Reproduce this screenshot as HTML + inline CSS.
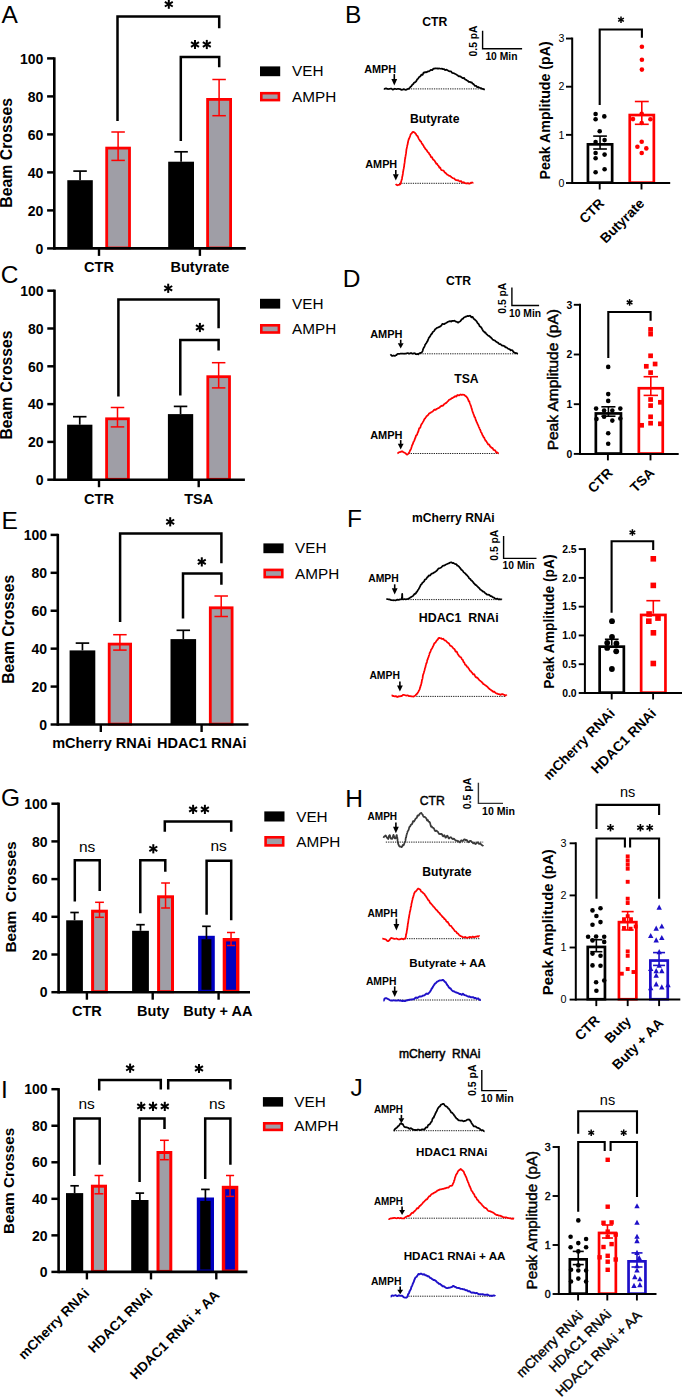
<!DOCTYPE html>
<html><head><meta charset="utf-8"><style>
html,body{margin:0;padding:0;background:#fff;}
svg{display:block;font-family:"Liberation Sans",sans-serif;}
</style></head><body>
<svg width="682" height="1399" viewBox="0 0 682 1399">
<rect width="682" height="1399" fill="#fff"/>
<rect x="67.3" y="180.2" width="25.5" height="68.2" fill="#000"/>
<line x1="80.05" y1="180.2" x2="80.05" y2="171.1" stroke="#000" stroke-width="1.7"/>
<line x1="73.3" y1="171.1" x2="86.8" y2="171.1" stroke="#000" stroke-width="1.7"/>
<rect x="106.7" y="148.1" width="22.8" height="99.9" fill="#9f9ea6" stroke="#ff0000" stroke-width="2.8"/>
<line x1="118.1" y1="160.4" x2="118.1" y2="132" stroke="#ff0000" stroke-width="1.5"/>
<line x1="111.35" y1="132" x2="124.85" y2="132" stroke="#ff0000" stroke-width="1.5"/>
<line x1="111.35" y1="160.4" x2="124.85" y2="160.4" stroke="#ff0000" stroke-width="1.5"/>
<rect x="168.2" y="161.7" width="25.8" height="86.7" fill="#000"/>
<line x1="181.1" y1="161.7" x2="181.1" y2="151.8" stroke="#000" stroke-width="1.7"/>
<line x1="174.35" y1="151.8" x2="187.85" y2="151.8" stroke="#000" stroke-width="1.7"/>
<rect x="207.6" y="99.4" width="23" height="148.6" fill="#9f9ea6" stroke="#ff0000" stroke-width="2.8"/>
<line x1="219.1" y1="115.7" x2="219.1" y2="79.5" stroke="#ff0000" stroke-width="1.5"/>
<line x1="212.35" y1="79.5" x2="225.85" y2="79.5" stroke="#ff0000" stroke-width="1.5"/>
<line x1="212.35" y1="115.7" x2="225.85" y2="115.7" stroke="#ff0000" stroke-width="1.5"/>
<line x1="54.3" y1="57.3" x2="54.3" y2="249.7" stroke="#000" stroke-width="2.6"/>
<line x1="47.1" y1="248.4" x2="54.3" y2="248.4" stroke="#000" stroke-width="2.47"/>
<text x="43.4" y="253.6" font-size="14" font-weight="bold" text-anchor="end" fill="#000">0</text>
<line x1="47.1" y1="210.4" x2="54.3" y2="210.4" stroke="#000" stroke-width="2.47"/>
<text x="43.4" y="215.6" font-size="14" font-weight="bold" text-anchor="end" fill="#000">20</text>
<line x1="47.1" y1="172.4" x2="54.3" y2="172.4" stroke="#000" stroke-width="2.47"/>
<text x="43.4" y="177.6" font-size="14" font-weight="bold" text-anchor="end" fill="#000">40</text>
<line x1="47.1" y1="134.4" x2="54.3" y2="134.4" stroke="#000" stroke-width="2.47"/>
<text x="43.4" y="139.6" font-size="14" font-weight="bold" text-anchor="end" fill="#000">60</text>
<line x1="47.1" y1="96.4" x2="54.3" y2="96.4" stroke="#000" stroke-width="2.47"/>
<text x="43.4" y="101.6" font-size="14" font-weight="bold" text-anchor="end" fill="#000">80</text>
<line x1="47.1" y1="58.4" x2="54.3" y2="58.4" stroke="#000" stroke-width="2.47"/>
<text x="43.4" y="63.6" font-size="14" font-weight="bold" text-anchor="end" fill="#000">100</text>
<line x1="54.3" y1="248.4" x2="245.8" y2="248.4" stroke="#000" stroke-width="2.6"/>
<line x1="99" y1="248.4" x2="99" y2="255.9" stroke="#000" stroke-width="2.4"/>
<line x1="199.9" y1="248.4" x2="199.9" y2="255.9" stroke="#000" stroke-width="2.4"/>
<text x="99" y="271.8" font-size="14.5" font-weight="bold" text-anchor="middle" fill="#000">CTR</text>
<text x="199.9" y="271.8" font-size="14.5" font-weight="bold" text-anchor="middle" fill="#000">Butyrate</text>
<text x="12.3" y="152.8" font-size="15.8" font-weight="bold" text-anchor="middle" fill="#000" transform="rotate(-90 12.3 152.8)" xml:space="preserve">Beam Crosses</text>
<path d="M117.5 121V16.4H219.2V28.2" fill="none" stroke="#000" stroke-width="2.5" stroke-linejoin="miter"/>
<path d="M180.8 141V56.9H219.2V67.2" fill="none" stroke="#000" stroke-width="2.5" stroke-linejoin="miter"/>
<line x1="168.8" y1="-0.4" x2="168.8" y2="8.8" stroke="#000" stroke-width="2"/>
<line x1="164.82" y1="1.9" x2="172.78" y2="6.5" stroke="#000" stroke-width="2"/>
<line x1="164.82" y1="6.5" x2="172.78" y2="1.9" stroke="#000" stroke-width="2"/>
<line x1="195" y1="39.9" x2="195" y2="49.1" stroke="#000" stroke-width="2"/>
<line x1="191.02" y1="42.2" x2="198.98" y2="46.8" stroke="#000" stroke-width="2"/>
<line x1="191.02" y1="46.8" x2="198.98" y2="42.2" stroke="#000" stroke-width="2"/>
<line x1="206.8" y1="39.9" x2="206.8" y2="49.1" stroke="#000" stroke-width="2"/>
<line x1="202.82" y1="42.2" x2="210.78" y2="46.8" stroke="#000" stroke-width="2"/>
<line x1="202.82" y1="46.8" x2="210.78" y2="42.2" stroke="#000" stroke-width="2"/>
<rect x="260" y="66.4" width="20.2" height="9.8" fill="#000"/>
<text x="292" y="76.4" font-size="15.3" text-anchor="start" fill="#000">VEH</text>
<rect x="261.3" y="93.2" width="17.6" height="6.9" fill="#9f9ea6" stroke="#ff0000" stroke-width="2.6"/>
<text x="292" y="101.6" font-size="15.3" text-anchor="start" fill="#000">AMPH</text>
<text x="1.6" y="23" font-size="24.5" text-anchor="start" fill="#000">A</text>
<rect x="67.1" y="424.7" width="25.3" height="55" fill="#000"/>
<line x1="79.75" y1="424.7" x2="79.75" y2="416.7" stroke="#000" stroke-width="1.7"/>
<line x1="73" y1="416.7" x2="86.5" y2="416.7" stroke="#000" stroke-width="1.7"/>
<rect x="106.6" y="418.8" width="21.8" height="60.5" fill="#9f9ea6" stroke="#ff0000" stroke-width="2.8"/>
<line x1="117.5" y1="426.9" x2="117.5" y2="407.5" stroke="#ff0000" stroke-width="1.5"/>
<line x1="110.75" y1="407.5" x2="124.25" y2="407.5" stroke="#ff0000" stroke-width="1.5"/>
<line x1="110.75" y1="426.9" x2="124.25" y2="426.9" stroke="#ff0000" stroke-width="1.5"/>
<rect x="167.9" y="414.1" width="25.3" height="65.6" fill="#000"/>
<line x1="180.55" y1="414.1" x2="180.55" y2="406.4" stroke="#000" stroke-width="1.7"/>
<line x1="173.8" y1="406.4" x2="187.3" y2="406.4" stroke="#000" stroke-width="1.7"/>
<rect x="207.8" y="376.7" width="21.7" height="102.6" fill="#9f9ea6" stroke="#ff0000" stroke-width="2.8"/>
<line x1="218.65" y1="387.9" x2="218.65" y2="362.7" stroke="#ff0000" stroke-width="1.5"/>
<line x1="211.9" y1="362.7" x2="225.4" y2="362.7" stroke="#ff0000" stroke-width="1.5"/>
<line x1="211.9" y1="387.9" x2="225.4" y2="387.9" stroke="#ff0000" stroke-width="1.5"/>
<line x1="54.5" y1="289.6" x2="54.5" y2="481" stroke="#000" stroke-width="2.6"/>
<line x1="47.3" y1="479.7" x2="54.5" y2="479.7" stroke="#000" stroke-width="2.47"/>
<text x="43.6" y="484.9" font-size="14" font-weight="bold" text-anchor="end" fill="#000">0</text>
<line x1="47.3" y1="441.9" x2="54.5" y2="441.9" stroke="#000" stroke-width="2.47"/>
<text x="43.6" y="447.1" font-size="14" font-weight="bold" text-anchor="end" fill="#000">20</text>
<line x1="47.3" y1="404.1" x2="54.5" y2="404.1" stroke="#000" stroke-width="2.47"/>
<text x="43.6" y="409.3" font-size="14" font-weight="bold" text-anchor="end" fill="#000">40</text>
<line x1="47.3" y1="366.3" x2="54.5" y2="366.3" stroke="#000" stroke-width="2.47"/>
<text x="43.6" y="371.5" font-size="14" font-weight="bold" text-anchor="end" fill="#000">60</text>
<line x1="47.3" y1="328.5" x2="54.5" y2="328.5" stroke="#000" stroke-width="2.47"/>
<text x="43.6" y="333.7" font-size="14" font-weight="bold" text-anchor="end" fill="#000">80</text>
<line x1="47.3" y1="290.7" x2="54.5" y2="290.7" stroke="#000" stroke-width="2.47"/>
<text x="43.6" y="295.9" font-size="14" font-weight="bold" text-anchor="end" fill="#000">100</text>
<line x1="54.5" y1="479.7" x2="244.9" y2="479.7" stroke="#000" stroke-width="2.6"/>
<line x1="99" y1="479.7" x2="99" y2="487.2" stroke="#000" stroke-width="2.4"/>
<line x1="198.7" y1="479.7" x2="198.7" y2="487.2" stroke="#000" stroke-width="2.4"/>
<text x="99" y="503.9" font-size="14.5" font-weight="bold" text-anchor="middle" fill="#000">CTR</text>
<text x="198.7" y="503.9" font-size="14.5" font-weight="bold" text-anchor="middle" fill="#000">TSA</text>
<text x="11.9" y="385" font-size="15.7" font-weight="bold" text-anchor="middle" fill="#000" transform="rotate(-90 11.9 385)" xml:space="preserve">Beam Crosses</text>
<path d="M118.4 396.5V299.6H218.6V328.2" fill="none" stroke="#000" stroke-width="2.5" stroke-linejoin="miter"/>
<path d="M180.3 395.4V340H218.6V350.6" fill="none" stroke="#000" stroke-width="2.5" stroke-linejoin="miter"/>
<line x1="168.2" y1="283.7" x2="168.2" y2="292.9" stroke="#000" stroke-width="2"/>
<line x1="164.22" y1="286" x2="172.18" y2="290.6" stroke="#000" stroke-width="2"/>
<line x1="164.22" y1="290.6" x2="172.18" y2="286" stroke="#000" stroke-width="2"/>
<line x1="199.9" y1="322.9" x2="199.9" y2="332.1" stroke="#000" stroke-width="2"/>
<line x1="195.92" y1="325.2" x2="203.88" y2="329.8" stroke="#000" stroke-width="2"/>
<line x1="195.92" y1="329.8" x2="203.88" y2="325.2" stroke="#000" stroke-width="2"/>
<rect x="260" y="298.8" width="20.2" height="9.8" fill="#000"/>
<text x="292" y="308.8" font-size="15.3" text-anchor="start" fill="#000">VEH</text>
<rect x="261.3" y="325.3" width="17.6" height="7.2" fill="#9f9ea6" stroke="#ff0000" stroke-width="2.6"/>
<text x="292" y="334" font-size="15.3" text-anchor="start" fill="#000">AMPH</text>
<text x="0.8" y="282.7" font-size="24.5" text-anchor="start" fill="#000">C</text>
<rect x="69.6" y="650.4" width="25.7" height="74.1" fill="#000"/>
<line x1="82.45" y1="650.4" x2="82.45" y2="643.1" stroke="#000" stroke-width="1.7"/>
<line x1="75.7" y1="643.1" x2="89.2" y2="643.1" stroke="#000" stroke-width="1.7"/>
<rect x="109.2" y="644.1" width="21.4" height="80" fill="#9f9ea6" stroke="#ff0000" stroke-width="2.8"/>
<line x1="119.9" y1="650.1" x2="119.9" y2="634.7" stroke="#ff0000" stroke-width="1.5"/>
<line x1="113.15" y1="634.7" x2="126.65" y2="634.7" stroke="#ff0000" stroke-width="1.5"/>
<line x1="113.15" y1="650.1" x2="126.65" y2="650.1" stroke="#ff0000" stroke-width="1.5"/>
<rect x="170.5" y="639.1" width="25.6" height="85.4" fill="#000"/>
<line x1="183.3" y1="639.1" x2="183.3" y2="630.3" stroke="#000" stroke-width="1.7"/>
<line x1="176.55" y1="630.3" x2="190.05" y2="630.3" stroke="#000" stroke-width="1.7"/>
<rect x="210.3" y="607.8" width="21.8" height="116.3" fill="#9f9ea6" stroke="#ff0000" stroke-width="2.8"/>
<line x1="221.2" y1="616.5" x2="221.2" y2="596" stroke="#ff0000" stroke-width="1.5"/>
<line x1="214.45" y1="596" x2="227.95" y2="596" stroke="#ff0000" stroke-width="1.5"/>
<line x1="214.45" y1="616.5" x2="227.95" y2="616.5" stroke="#ff0000" stroke-width="1.5"/>
<line x1="57.8" y1="533.8" x2="57.8" y2="725.8" stroke="#000" stroke-width="2.6"/>
<line x1="50.6" y1="724.5" x2="57.8" y2="724.5" stroke="#000" stroke-width="2.47"/>
<text x="47" y="729.7" font-size="14" font-weight="bold" text-anchor="end" fill="#000">0</text>
<line x1="50.6" y1="686.58" x2="57.8" y2="686.58" stroke="#000" stroke-width="2.47"/>
<text x="47" y="691.78" font-size="14" font-weight="bold" text-anchor="end" fill="#000">20</text>
<line x1="50.6" y1="648.66" x2="57.8" y2="648.66" stroke="#000" stroke-width="2.47"/>
<text x="47" y="653.86" font-size="14" font-weight="bold" text-anchor="end" fill="#000">40</text>
<line x1="50.6" y1="610.74" x2="57.8" y2="610.74" stroke="#000" stroke-width="2.47"/>
<text x="47" y="615.94" font-size="14" font-weight="bold" text-anchor="end" fill="#000">60</text>
<line x1="50.6" y1="572.82" x2="57.8" y2="572.82" stroke="#000" stroke-width="2.47"/>
<text x="47" y="578.02" font-size="14" font-weight="bold" text-anchor="end" fill="#000">80</text>
<line x1="50.6" y1="534.9" x2="57.8" y2="534.9" stroke="#000" stroke-width="2.47"/>
<text x="47" y="540.1" font-size="14" font-weight="bold" text-anchor="end" fill="#000">100</text>
<line x1="57.8" y1="724.5" x2="248.5" y2="724.5" stroke="#000" stroke-width="2.6"/>
<line x1="100.8" y1="724.5" x2="100.8" y2="732" stroke="#000" stroke-width="2.4"/>
<line x1="201.6" y1="724.5" x2="201.6" y2="732" stroke="#000" stroke-width="2.4"/>
<text x="101.7" y="748.3" font-size="14.5" font-weight="bold" text-anchor="middle" fill="#000">mCherry RNAi</text>
<text x="201.8" y="748.3" font-size="14.5" font-weight="bold" text-anchor="middle" fill="#000">HDAC1 RNAi</text>
<text x="14.5" y="629.3" font-size="15.7" font-weight="bold" text-anchor="middle" fill="#000" transform="rotate(-90 14.5 629.3)" xml:space="preserve">Beam Crosses</text>
<path d="M120.1 622.1V533.6H221.4V563.3" fill="none" stroke="#000" stroke-width="2.5" stroke-linejoin="miter"/>
<path d="M183 618.4V573.6H221.4V584.8" fill="none" stroke="#000" stroke-width="2.5" stroke-linejoin="miter"/>
<line x1="170.2" y1="517.2" x2="170.2" y2="526.4" stroke="#000" stroke-width="2"/>
<line x1="166.22" y1="519.5" x2="174.18" y2="524.1" stroke="#000" stroke-width="2"/>
<line x1="166.22" y1="524.1" x2="174.18" y2="519.5" stroke="#000" stroke-width="2"/>
<line x1="201.8" y1="557.3" x2="201.8" y2="566.5" stroke="#000" stroke-width="2"/>
<line x1="197.82" y1="559.6" x2="205.78" y2="564.2" stroke="#000" stroke-width="2"/>
<line x1="197.82" y1="564.2" x2="205.78" y2="559.6" stroke="#000" stroke-width="2"/>
<rect x="263.4" y="543.4" width="20.2" height="9.8" fill="#000"/>
<text x="295.1" y="553.4" font-size="15.3" text-anchor="start" fill="#000">VEH</text>
<rect x="264.7" y="569.9" width="17.6" height="7.2" fill="#9f9ea6" stroke="#ff0000" stroke-width="2.6"/>
<text x="295.1" y="578.6" font-size="15.3" text-anchor="start" fill="#000">AMPH</text>
<text x="1.6" y="528.6" font-size="24.5" text-anchor="start" fill="#000">E</text>
<rect x="66.2" y="920.3" width="16.7" height="71.9" fill="#000"/>
<line x1="74.55" y1="920.3" x2="74.55" y2="912.5" stroke="#000" stroke-width="1.7"/>
<line x1="70.3" y1="912.5" x2="78.8" y2="912.5" stroke="#000" stroke-width="1.7"/>
<rect x="92.6" y="911.2" width="13.8" height="80.5" fill="#9f9ea6" stroke="#ff0000" stroke-width="3"/>
<line x1="99.5" y1="917.3" x2="99.5" y2="902.3" stroke="#ff0000" stroke-width="1.5"/>
<line x1="95.1" y1="902.3" x2="103.9" y2="902.3" stroke="#ff0000" stroke-width="1.5"/>
<line x1="95.1" y1="917.3" x2="103.9" y2="917.3" stroke="#ff0000" stroke-width="1.5"/>
<rect x="132.1" y="930.8" width="16.8" height="61.4" fill="#000"/>
<line x1="140.5" y1="930.8" x2="140.5" y2="924.7" stroke="#000" stroke-width="1.7"/>
<line x1="136.25" y1="924.7" x2="144.75" y2="924.7" stroke="#000" stroke-width="1.7"/>
<rect x="158.6" y="896.8" width="13.9" height="94.9" fill="#9f9ea6" stroke="#ff0000" stroke-width="3"/>
<line x1="165.55" y1="908" x2="165.55" y2="883" stroke="#ff0000" stroke-width="1.5"/>
<line x1="161.15" y1="883" x2="169.95" y2="883" stroke="#ff0000" stroke-width="1.5"/>
<line x1="161.15" y1="908" x2="169.95" y2="908" stroke="#ff0000" stroke-width="1.5"/>
<rect x="199.8" y="937.5" width="13.3" height="54" fill="#000" stroke="#0000c0" stroke-width="3.4"/>
<line x1="206.45" y1="939.2" x2="206.45" y2="926.3" stroke="#000" stroke-width="1.7"/>
<line x1="202.15" y1="926.3" x2="210.75" y2="926.3" stroke="#000" stroke-width="1.7"/>
<rect x="224.4" y="939.7" width="13.3" height="51.8" fill="#0000c0" stroke="#ff0000" stroke-width="3.4"/>
<line x1="231.05" y1="945.5" x2="231.05" y2="932.5" stroke="#ff0000" stroke-width="1.5"/>
<line x1="227" y1="932.5" x2="235.1" y2="932.5" stroke="#ff0000" stroke-width="1.5"/>
<line x1="227" y1="945.5" x2="235.1" y2="945.5" stroke="#ff0000" stroke-width="1.5"/>
<line x1="58.6" y1="802.6" x2="58.6" y2="993.5" stroke="#000" stroke-width="2.6"/>
<line x1="51.4" y1="992.2" x2="58.6" y2="992.2" stroke="#000" stroke-width="2.47"/>
<text x="47.6" y="997.4" font-size="14" font-weight="bold" text-anchor="end" fill="#000">0</text>
<line x1="51.4" y1="954.5" x2="58.6" y2="954.5" stroke="#000" stroke-width="2.47"/>
<text x="47.6" y="959.7" font-size="14" font-weight="bold" text-anchor="end" fill="#000">20</text>
<line x1="51.4" y1="916.8" x2="58.6" y2="916.8" stroke="#000" stroke-width="2.47"/>
<text x="47.6" y="922" font-size="14" font-weight="bold" text-anchor="end" fill="#000">40</text>
<line x1="51.4" y1="879.1" x2="58.6" y2="879.1" stroke="#000" stroke-width="2.47"/>
<text x="47.6" y="884.3" font-size="14" font-weight="bold" text-anchor="end" fill="#000">60</text>
<line x1="51.4" y1="841.4" x2="58.6" y2="841.4" stroke="#000" stroke-width="2.47"/>
<text x="47.6" y="846.6" font-size="14" font-weight="bold" text-anchor="end" fill="#000">80</text>
<line x1="51.4" y1="803.7" x2="58.6" y2="803.7" stroke="#000" stroke-width="2.47"/>
<text x="47.6" y="808.9" font-size="14" font-weight="bold" text-anchor="end" fill="#000">100</text>
<line x1="58.6" y1="992.2" x2="250" y2="992.2" stroke="#000" stroke-width="2.6"/>
<line x1="86.9" y1="992.2" x2="86.9" y2="999.7" stroke="#000" stroke-width="2.4"/>
<line x1="152.7" y1="992.2" x2="152.7" y2="999.7" stroke="#000" stroke-width="2.4"/>
<line x1="218.6" y1="992.2" x2="218.6" y2="999.7" stroke="#000" stroke-width="2.4"/>
<text x="86.9" y="1015.5" font-size="14.5" font-weight="bold" text-anchor="middle" fill="#000">CTR</text>
<text x="153.2" y="1015.5" font-size="14.5" font-weight="bold" text-anchor="middle" fill="#000">Buty</text>
<text x="217.8" y="1015.5" font-size="14.5" font-weight="bold" text-anchor="middle" fill="#000">Buty + AA</text>
<text x="16" y="897" font-size="15.4" font-weight="bold" text-anchor="middle" fill="#000" transform="rotate(-90 16 897)" xml:space="preserve">Beam  Crosses</text>
<path d="M74.8 901.6V860.3H99.7V890.9" fill="none" stroke="#000" stroke-width="2.5" stroke-linejoin="miter"/>
<path d="M140.3 913.3V860.3H165.3V871.7" fill="none" stroke="#000" stroke-width="2.5" stroke-linejoin="miter"/>
<path d="M164.8 831.8V821.5H231.2V831.8" fill="none" stroke="#000" stroke-width="2.5" stroke-linejoin="miter"/>
<path d="M206.6 914.7V860.7H231.2V920.2" fill="none" stroke="#000" stroke-width="2.5" stroke-linejoin="miter"/>
<text x="87.2" y="851.8" font-size="15.5" text-anchor="middle" fill="#000">ns</text>
<line x1="153.3" y1="844.2" x2="153.3" y2="853.4" stroke="#000" stroke-width="2"/>
<line x1="149.32" y1="846.5" x2="157.28" y2="851.1" stroke="#000" stroke-width="2"/>
<line x1="149.32" y1="851.1" x2="157.28" y2="846.5" stroke="#000" stroke-width="2"/>
<line x1="193.1" y1="804.8" x2="193.1" y2="814" stroke="#000" stroke-width="2"/>
<line x1="189.12" y1="807.1" x2="197.08" y2="811.7" stroke="#000" stroke-width="2"/>
<line x1="189.12" y1="811.7" x2="197.08" y2="807.1" stroke="#000" stroke-width="2"/>
<line x1="204.9" y1="804.8" x2="204.9" y2="814" stroke="#000" stroke-width="2"/>
<line x1="200.92" y1="807.1" x2="208.88" y2="811.7" stroke="#000" stroke-width="2"/>
<line x1="200.92" y1="811.7" x2="208.88" y2="807.1" stroke="#000" stroke-width="2"/>
<text x="218.6" y="851.4" font-size="15.5" text-anchor="middle" fill="#000">ns</text>
<rect x="264.3" y="811.4" width="20.2" height="10.1" fill="#000"/>
<text x="296.2" y="821.7" font-size="15.3" text-anchor="start" fill="#000">VEH</text>
<rect x="265.6" y="837.3" width="17.6" height="8.1" fill="#9f9ea6" stroke="#ff0000" stroke-width="2.6"/>
<text x="296.2" y="846.9" font-size="15.3" text-anchor="start" fill="#000">AMPH</text>
<text x="1" y="806.2" font-size="24.5" text-anchor="start" fill="#000">G</text>
<rect x="66" y="1193.1" width="17.2" height="78.8" fill="#000"/>
<line x1="74.6" y1="1193.1" x2="74.6" y2="1185.8" stroke="#000" stroke-width="1.7"/>
<line x1="70.35" y1="1185.8" x2="78.85" y2="1185.8" stroke="#000" stroke-width="1.7"/>
<rect x="92.4" y="1186.2" width="13.1" height="85.2" fill="#9f9ea6" stroke="#ff0000" stroke-width="3"/>
<line x1="98.95" y1="1193.8" x2="98.95" y2="1175.5" stroke="#ff0000" stroke-width="1.5"/>
<line x1="94.55" y1="1175.5" x2="103.35" y2="1175.5" stroke="#ff0000" stroke-width="1.5"/>
<line x1="94.55" y1="1193.8" x2="103.35" y2="1193.8" stroke="#ff0000" stroke-width="1.5"/>
<rect x="131.2" y="1200" width="17.3" height="71.9" fill="#000"/>
<line x1="139.85" y1="1200" x2="139.85" y2="1193.1" stroke="#000" stroke-width="1.7"/>
<line x1="135.6" y1="1193.1" x2="144.1" y2="1193.1" stroke="#000" stroke-width="1.7"/>
<rect x="158" y="1152.5" width="12.8" height="118.9" fill="#9f9ea6" stroke="#ff0000" stroke-width="3"/>
<line x1="164.4" y1="1159.7" x2="164.4" y2="1140.3" stroke="#ff0000" stroke-width="1.5"/>
<line x1="160" y1="1140.3" x2="168.8" y2="1140.3" stroke="#ff0000" stroke-width="1.5"/>
<line x1="160" y1="1159.7" x2="168.8" y2="1159.7" stroke="#ff0000" stroke-width="1.5"/>
<rect x="198.5" y="1199.2" width="13.8" height="72" fill="#000" stroke="#0000c0" stroke-width="3.4"/>
<line x1="205.4" y1="1200.9" x2="205.4" y2="1189.4" stroke="#000" stroke-width="1.7"/>
<line x1="201.1" y1="1189.4" x2="209.7" y2="1189.4" stroke="#000" stroke-width="1.7"/>
<rect x="223.5" y="1187.5" width="13.1" height="83.7" fill="#0000c0" stroke="#ff0000" stroke-width="3.4"/>
<line x1="230.05" y1="1196.4" x2="230.05" y2="1175.5" stroke="#ff0000" stroke-width="1.5"/>
<line x1="226" y1="1175.5" x2="234.1" y2="1175.5" stroke="#ff0000" stroke-width="1.5"/>
<line x1="226" y1="1196.4" x2="234.1" y2="1196.4" stroke="#ff0000" stroke-width="1.5"/>
<line x1="58.6" y1="1088.1" x2="58.6" y2="1273.2" stroke="#000" stroke-width="2.6"/>
<line x1="51.4" y1="1271.9" x2="58.6" y2="1271.9" stroke="#000" stroke-width="2.47"/>
<text x="47.6" y="1277.1" font-size="14" font-weight="bold" text-anchor="end" fill="#000">0</text>
<line x1="51.4" y1="1235.36" x2="58.6" y2="1235.36" stroke="#000" stroke-width="2.47"/>
<text x="47.6" y="1240.56" font-size="14" font-weight="bold" text-anchor="end" fill="#000">20</text>
<line x1="51.4" y1="1198.82" x2="58.6" y2="1198.82" stroke="#000" stroke-width="2.47"/>
<text x="47.6" y="1204.02" font-size="14" font-weight="bold" text-anchor="end" fill="#000">40</text>
<line x1="51.4" y1="1162.28" x2="58.6" y2="1162.28" stroke="#000" stroke-width="2.47"/>
<text x="47.6" y="1167.48" font-size="14" font-weight="bold" text-anchor="end" fill="#000">60</text>
<line x1="51.4" y1="1125.74" x2="58.6" y2="1125.74" stroke="#000" stroke-width="2.47"/>
<text x="47.6" y="1130.94" font-size="14" font-weight="bold" text-anchor="end" fill="#000">80</text>
<line x1="51.4" y1="1089.2" x2="58.6" y2="1089.2" stroke="#000" stroke-width="2.47"/>
<text x="47.6" y="1094.4" font-size="14" font-weight="bold" text-anchor="end" fill="#000">100</text>
<line x1="58.6" y1="1271.9" x2="247.4" y2="1271.9" stroke="#000" stroke-width="2.6"/>
<line x1="86.9" y1="1271.9" x2="86.9" y2="1279.4" stroke="#000" stroke-width="2.4"/>
<line x1="151" y1="1271.9" x2="151" y2="1279.4" stroke="#000" stroke-width="2.4"/>
<line x1="216.3" y1="1271.9" x2="216.3" y2="1279.4" stroke="#000" stroke-width="2.4"/>
<text x="90.1" y="1294.1" font-size="13.7" font-weight="bold" text-anchor="end" fill="#000" transform="rotate(-45 90.1 1294.1)">mCherry RNAi</text>
<text x="153.5" y="1294.1" font-size="13.7" font-weight="bold" text-anchor="end" fill="#000" transform="rotate(-45 153.5 1294.1)">HDAC1 RNAi</text>
<text x="220.2" y="1295.9" font-size="13.7" font-weight="bold" text-anchor="end" fill="#000" transform="rotate(-45 220.2 1295.9)">HDAC1 RNAi + AA</text>
<text x="14.1" y="1180.8" font-size="15.3" font-weight="bold" text-anchor="middle" fill="#000" transform="rotate(-90 14.1 1180.8)" xml:space="preserve">Beam Crosses</text>
<path d="M74.3 1175.9V1118.6H99.7V1164.7" fill="none" stroke="#000" stroke-width="2.5" stroke-linejoin="miter"/>
<path d="M139.6 1182.1V1118.6H164.5V1129" fill="none" stroke="#000" stroke-width="2.5" stroke-linejoin="miter"/>
<path d="M99.2 1090.4V1079.9H160.8V1089.6" fill="none" stroke="#000" stroke-width="2.5" stroke-linejoin="miter"/>
<path d="M168.2 1089.6V1080.3H230.4V1089.6" fill="none" stroke="#000" stroke-width="2.5" stroke-linejoin="miter"/>
<path d="M205.2 1178.9V1118.6H230.4V1164.8" fill="none" stroke="#000" stroke-width="2.5" stroke-linejoin="miter"/>
<text x="86.7" y="1109.4" font-size="15.5" text-anchor="middle" fill="#000">ns</text>
<line x1="141.2" y1="1101.8" x2="141.2" y2="1111" stroke="#000" stroke-width="2"/>
<line x1="137.22" y1="1104.1" x2="145.18" y2="1108.7" stroke="#000" stroke-width="2"/>
<line x1="137.22" y1="1108.7" x2="145.18" y2="1104.1" stroke="#000" stroke-width="2"/>
<line x1="153" y1="1101.8" x2="153" y2="1111" stroke="#000" stroke-width="2"/>
<line x1="149.02" y1="1104.1" x2="156.98" y2="1108.7" stroke="#000" stroke-width="2"/>
<line x1="149.02" y1="1108.7" x2="156.98" y2="1104.1" stroke="#000" stroke-width="2"/>
<line x1="164.8" y1="1101.8" x2="164.8" y2="1111" stroke="#000" stroke-width="2"/>
<line x1="160.82" y1="1104.1" x2="168.78" y2="1108.7" stroke="#000" stroke-width="2"/>
<line x1="160.82" y1="1108.7" x2="168.78" y2="1104.1" stroke="#000" stroke-width="2"/>
<line x1="130.1" y1="1063.6" x2="130.1" y2="1072.8" stroke="#000" stroke-width="2"/>
<line x1="126.12" y1="1065.9" x2="134.08" y2="1070.5" stroke="#000" stroke-width="2"/>
<line x1="126.12" y1="1070.5" x2="134.08" y2="1065.9" stroke="#000" stroke-width="2"/>
<line x1="199" y1="1063.9" x2="199" y2="1073.1" stroke="#000" stroke-width="2"/>
<line x1="195.02" y1="1066.2" x2="202.98" y2="1070.8" stroke="#000" stroke-width="2"/>
<line x1="195.02" y1="1070.8" x2="202.98" y2="1066.2" stroke="#000" stroke-width="2"/>
<text x="217.2" y="1109.4" font-size="15.5" text-anchor="middle" fill="#000">ns</text>
<rect x="262.9" y="1097.1" width="20.2" height="9.5" fill="#000"/>
<text x="294.3" y="1106.8" font-size="15.3" text-anchor="start" fill="#000">VEH</text>
<rect x="264.2" y="1123.3" width="17.6" height="6.6" fill="#9f9ea6" stroke="#ff0000" stroke-width="2.6"/>
<text x="294.3" y="1131.4" font-size="15.3" text-anchor="start" fill="#000">AMPH</text>
<text x="1" y="1098.3" font-size="24.5" text-anchor="start" fill="#000">I</text>
<text x="345.1" y="22.7" font-size="24.5" text-anchor="start" fill="#000">B</text>
<text x="434.7" y="26.4" font-size="12.2" font-weight="bold" text-anchor="middle" fill="#000">CTR</text>
<text x="434.7" y="122.7" font-size="12.2" font-weight="bold" text-anchor="middle" fill="#000">Butyrate</text>
<path d="M482.6 30.8V48.7H522.1" fill="none" stroke="#000" stroke-width="1.4"/>
<text x="476.6" y="41" font-size="10.3" font-weight="bold" text-anchor="middle" fill="#000" transform="rotate(-90 476.6 41)">0.5 pA</text>
<text x="485.4" y="60" font-size="10.3" font-weight="bold" text-anchor="start" fill="#000">10 Min</text>
<text x="364.2" y="73.1" font-size="10.2" font-weight="bold" textLength="32" lengthAdjust="spacingAndGlyphs">AMPH</text>
<line x1="394.3" y1="74.1" x2="394.3" y2="79.6" stroke="#000" stroke-width="1.6"/>
<path d="M391.4 79.1L397.2 79.1L394.3 85.5Z" fill="#000"/>
<line x1="408.6" y1="88.9" x2="482" y2="88.9" stroke="#222" stroke-width="1" stroke-dasharray="1.3 1"/>
<polyline points="383.8,88.9 384.18,88.95 384.68,88.8 385.27,88.55 385.94,88.42 386.65,88.65 387.38,88.97 388.11,89.01 388.8,88.95 389.44,88.84 390,88.77 390.79,88.59 391.5,88.59 392.14,89.21 392.75,89.67 393.36,89.5 394,88.98 394.66,88.73 395.3,88.87 395.94,89.01 396.59,89.04 397.28,88.97 398,88.85 398.58,88.76 399.19,88.94 399.81,89.05 400.46,89.22 401.1,89.69 401.75,89.9 402.38,89.76 403,89.39 403.7,89.21 404.41,89.38 405.11,89.62 405.8,89.8 406.47,89.66 407.1,89.26 407.7,88.91 408.24,88.95 408.72,88.9 409.16,88.37 409.59,87.99 410.03,87.47 410.49,86.69 411,86.49 411.37,86.2 411.74,85.3 412.11,84.92 412.49,84.68 412.88,84.23 413.29,83.93 413.74,83.26 414.21,82.58 414.73,82.42 415.3,82.12 415.66,81.86 416.04,81.48 416.44,80.79 416.86,79.93 417.29,79.31 417.74,78.98 418.19,78.44 418.66,77.72 419.13,77.06 419.61,76.6 420.08,76.52 420.56,76.15 421.04,75.12 421.52,74.62 421.99,74.9 422.45,74.96 422.9,74.19 423.44,72.93 423.98,72.44 424.51,72.64 425.04,72.36 425.57,72.08 426.1,72.33 426.64,72.24 427.17,71.76 427.71,71.44 428.26,71.43 428.81,71.41 429.36,71.07 429.93,70.71 430.5,70.21 431.08,69.81 431.66,70.04 432.24,70.08 432.83,69.38 433.42,68.63 434.02,68.67 434.62,68.72 435.23,68.27 435.85,68.39 436.48,68.51 437.11,68.35 437.76,68.63 438.42,68.63 439.1,68.38 439.63,68.49 440.18,68.63 440.73,68.75 441.29,68.8 441.85,68.6 442.43,68.75 443,69.18 443.59,69.14 444.18,69.17 444.77,69.79 445.36,70.11 445.96,69.74 446.57,69.61 447.17,70.03 447.78,70.4 448.38,70.82 448.99,71.16 449.6,71.28 450.12,71.44 450.65,71.35 451.18,71.56 451.71,72.31 452.25,72.85 452.79,73.03 453.33,73.08 453.87,73.23 454.42,73.53 454.96,73.82 455.51,74.02 456.06,74.37 456.61,74.72 457.16,75 457.71,75.4 458.26,75.94 458.81,76.37 459.36,76.31 459.91,76.18 460.45,76.44 461,76.97 461.53,77.39 462.06,77.57 462.61,78.09 463.16,78.3 463.72,77.82 464.29,78.12 464.85,79.03 465.42,79.56 465.98,79.77 466.55,80.05 467.11,80.53 467.66,80.79 468.2,81.24 468.74,81.97 469.27,82 469.78,81.84 470.28,82.12 470.76,82.46 471.23,82.41 471.67,82.29 472.1,82.99 472.5,83.65 473.23,83.87 473.88,84.45 474.45,85.26 474.96,85.84 475.43,85.92 475.87,85.66 476.3,85.91 476.73,86.52 477.18,87.13 477.67,87.15 478.2,86.97 478.8,87.39 479.45,87.74 480.14,87.89 480.84,88.02 481.56,88.51 482.25,89 482.91,88.98 483.53,89.11 484.08,89.36 484.54,89.34 484.9,89.3" fill="none" stroke="#000" stroke-width="1.75" stroke-linejoin="round"/>
<text x="365.3" y="168" font-size="10.2" font-weight="bold" textLength="31.9" lengthAdjust="spacingAndGlyphs">AMPH</text>
<line x1="395.8" y1="170" x2="395.8" y2="174.74" stroke="#000" stroke-width="1.6"/>
<path d="M392.9 174.24L398.7 174.24L395.8 180.6Z" fill="#000"/>
<line x1="399" y1="183.3" x2="472.5" y2="183.3" stroke="#222" stroke-width="1" stroke-dasharray="1.3 1"/>
<polyline points="395.8,183.9 396.2,184.59 396.77,184.93 397.43,185.33 398.1,184.98 398.55,184.8 399.03,184.8 399.52,184.73 400.02,184.55 400.52,183.89 401,182.5 401.11,181.61 401.23,181.22 401.34,181.16 401.45,180.57 401.56,179.8 401.68,179.54 401.79,179.63 401.9,179.41 402.01,178.64 402.12,177.63 402.23,176.8 402.34,176.26 402.46,176.1 402.57,175.6 402.68,174.71 402.79,174.3 402.9,173.64 403.01,172.33 403.12,171.46 403.24,171.24 403.35,170.53 403.46,169.63 403.57,169.15 403.69,168.75 403.8,168.02 403.89,167.24 403.98,166.98 404.07,166.79 404.16,166.03 404.25,164.91 404.34,164.17 404.44,163.84 404.53,163.21 404.62,162.64 404.71,162.13 404.8,160.93 404.9,159.77 404.99,159.16 405.08,158.74 405.18,158.54 405.27,157.99 405.36,157.11 405.45,156.62 405.55,156.19 405.64,155.63 405.73,155.06 405.82,154.38 405.91,153.94 406,153.63 406.09,152.83 406.18,151.87 406.27,151.04 406.36,150.07 406.44,149.27 406.53,149.03 406.62,148.93 406.7,148.41 406.86,147.55 407,146.88 407.15,146.06 407.29,145.3 407.42,144.96 407.56,144.59 407.69,143.75 407.83,143.09 407.96,142.54 408.1,141.56 408.24,140.66 408.38,140.4 408.53,140.05 408.69,139.18 408.85,138.82 409.02,138.88 409.2,138.45 409.5,137.58 409.81,136.88 410.13,135.94 410.47,134.77 410.82,133.98 411.17,133.82 411.53,133.66 411.9,132.99 412.27,132.37 412.63,132.01 413,131.87 413.43,131.97 413.84,132.17 414.24,132.3 414.65,132.48 415.08,133.15 415.53,133.63 416.03,134.15 416.58,135.29 417.2,135.92 417.48,135.8 417.76,136.46 418.06,137.27 418.37,137.84 418.7,138.54 419.03,139.18 419.37,139.62 419.71,140.18 420.07,140.86 420.42,141.34 420.79,141.41 421.15,141.67 421.52,142.76 421.89,143.64 422.26,143.81 422.64,144.45 423,145.14 423.37,145.33 423.74,146.25 424.1,147.16 424.45,147.26 424.8,147.92 425.16,148.7 425.52,148.93 425.87,149.39 426.22,149.83 426.57,150 426.91,150.52 427.26,151.3 427.61,151.87 427.95,152.17 428.3,152.39 428.65,152.72 429,153.44 429.36,154.25 429.72,154.57 430.08,154.7 430.45,155.55 430.83,156.79 431.21,157.29 431.6,157.03 431.99,157.04 432.4,157.98 432.75,158.99 433.1,159.59 433.46,159.82 433.82,160.07 434.19,160.32 434.57,160.63 434.95,161.5 435.33,162.07 435.71,162.47 436.1,163.45 436.49,163.92 436.88,163.72 437.28,164.12 437.67,164.96 438.07,165.48 438.47,165.72 438.87,166.38 439.26,167.47 439.66,167.76 440.05,167.44 440.45,167.96 440.84,169.1 441.23,169.85 441.62,170.24 442,170.25 442.5,170.3 443,170.53 443.51,170.68 444.01,171.27 444.51,172.16 445.01,172.66 445.51,172.88 446.01,173.35 446.51,173.96 447.01,174.42 447.51,174.78 448,174.99 448.5,175.28 449,175.75 449.5,175.91 450,175.93 450.5,176.28 451,176.78 451.5,177.19 452.06,177.58 452.64,177.95 453.22,178.27 453.81,178.4 454.4,178.61 454.99,179.32 455.59,179.94 456.18,180.08 456.76,180.21 457.34,180.38 457.91,180.23 458.46,180.31 459.01,180.82 459.53,181.27 460.04,181.55 460.53,181.27 461,181 461.74,181.84 462.42,182.7 463.04,182.55 463.63,182.22 464.19,182.51 464.74,183 465.28,183.16 465.83,183.27 466.4,183.5 467,183.39 467.65,183.18 468.36,183.37 469.09,183.6 469.84,183.51 470.57,183.07 471.28,182.56 471.94,182.57 472.52,182.73 473.02,182.7 473.4,182.5" fill="none" stroke="#ff0000" stroke-width="1.75" stroke-linejoin="round"/>
<rect x="587.95" y="144.35" width="24.2" height="38.3" fill="none" stroke="#000" stroke-width="2.7"/>
<rect x="629.75" y="115.05" width="24.1" height="67.6" fill="none" stroke="#ff0000" stroke-width="2.7"/>
<circle cx="595.6" cy="114" r="2.3" fill="#000"/>
<circle cx="604.3" cy="116.4" r="2.3" fill="#000"/>
<circle cx="595.6" cy="119.3" r="2.3" fill="#000"/>
<circle cx="599.7" cy="131.2" r="2.3" fill="#000"/>
<circle cx="595.6" cy="142.1" r="2.3" fill="#000"/>
<circle cx="604.6" cy="140.1" r="2.3" fill="#000"/>
<circle cx="595.6" cy="153" r="2.3" fill="#000"/>
<circle cx="604.6" cy="154.6" r="2.3" fill="#000"/>
<circle cx="595.6" cy="158.3" r="2.3" fill="#000"/>
<circle cx="604.6" cy="169.2" r="2.3" fill="#000"/>
<circle cx="595.6" cy="172.3" r="2.3" fill="#000"/>
<circle cx="641.9" cy="46.7" r="2.3" fill="#ff0000"/>
<circle cx="641.9" cy="59.7" r="2.3" fill="#ff0000"/>
<circle cx="641.9" cy="69.6" r="2.3" fill="#ff0000"/>
<circle cx="641.7" cy="113.7" r="2.3" fill="#ff0000"/>
<circle cx="633" cy="119.1" r="2.3" fill="#ff0000"/>
<circle cx="650.4" cy="119.3" r="2.3" fill="#ff0000"/>
<circle cx="641.7" cy="123" r="2.3" fill="#ff0000"/>
<circle cx="641.7" cy="141.8" r="2.3" fill="#ff0000"/>
<circle cx="637.4" cy="146.7" r="2.3" fill="#ff0000"/>
<circle cx="646.3" cy="148.4" r="2.3" fill="#ff0000"/>
<circle cx="641.7" cy="153" r="2.3" fill="#ff0000"/>
<line x1="600.05" y1="149" x2="600.05" y2="136.1" stroke="#000" stroke-width="1.6"/>
<line x1="593.2" y1="136.1" x2="606.9" y2="136.1" stroke="#000" stroke-width="1.6"/>
<line x1="593.2" y1="149" x2="606.9" y2="149" stroke="#000" stroke-width="1.6"/>
<line x1="641.8" y1="124.3" x2="641.8" y2="101.5" stroke="#ff0000" stroke-width="1.6"/>
<line x1="634.85" y1="101.5" x2="648.75" y2="101.5" stroke="#ff0000" stroke-width="1.6"/>
<line x1="634.85" y1="124.3" x2="648.75" y2="124.3" stroke="#ff0000" stroke-width="1.6"/>
<line x1="572.2" y1="37.55" x2="572.2" y2="184" stroke="#000" stroke-width="2"/>
<line x1="566" y1="183" x2="572.2" y2="183" stroke="#000" stroke-width="1.9"/>
<text x="564.4" y="186.75" font-size="10.6" text-anchor="end" fill="#000">0</text>
<line x1="566" y1="134.85" x2="572.2" y2="134.85" stroke="#000" stroke-width="1.9"/>
<text x="564.4" y="138.6" font-size="10.6" text-anchor="end" fill="#000">1</text>
<line x1="566" y1="86.7" x2="572.2" y2="86.7" stroke="#000" stroke-width="1.9"/>
<text x="564.4" y="90.45" font-size="10.6" text-anchor="end" fill="#000">2</text>
<line x1="566" y1="38.55" x2="572.2" y2="38.55" stroke="#000" stroke-width="1.9"/>
<text x="564.4" y="42.3" font-size="10.6" text-anchor="end" fill="#000">3</text>
<line x1="572.2" y1="183" x2="670.2" y2="183" stroke="#000" stroke-width="2"/>
<line x1="599.7" y1="183" x2="599.7" y2="189.5" stroke="#000" stroke-width="1.9"/>
<line x1="641.5" y1="183" x2="641.5" y2="189.5" stroke="#000" stroke-width="1.9"/>
<text x="605.1" y="204.3" font-size="13.8" font-weight="bold" text-anchor="end" fill="#000" transform="rotate(-45 605.1 204.3)">CTR</text>
<text x="645.3" y="204.3" font-size="13.8" font-weight="bold" text-anchor="end" fill="#000" transform="rotate(-45 645.3 204.3)">Butyrate</text>
<text x="549.6" y="110.4" font-size="14.2" font-weight="bold" text-anchor="middle" fill="#000" transform="rotate(-90 549.6 110.4)">Peak Amplitude (pA)</text>
<path d="M599.7 105V29.5H641.9V37.8" fill="none" stroke="#000" stroke-width="2.1" stroke-linejoin="miter"/>
<line x1="621" y1="16.5" x2="621" y2="23.1" stroke="#000" stroke-width="1.5"/>
<line x1="618.14" y1="18.15" x2="623.86" y2="21.45" stroke="#000" stroke-width="1.5"/>
<line x1="618.14" y1="21.45" x2="623.86" y2="18.15" stroke="#000" stroke-width="1.5"/>
<text x="342.8" y="287.2" font-size="24.5" text-anchor="start" fill="#000">D</text>
<text x="458.6" y="285.3" font-size="12.2" font-weight="bold" text-anchor="middle" fill="#000">CTR</text>
<text x="466.4" y="382.8" font-size="12.2" font-weight="bold" text-anchor="middle" fill="#000">TSA</text>
<path d="M511.9 287.4V305.5H539.1" fill="none" stroke="#000" stroke-width="1.4"/>
<text x="505.8" y="298.2" font-size="10.3" font-weight="bold" text-anchor="middle" fill="#000" transform="rotate(-90 505.8 298.2)">0.5 pA</text>
<text x="509" y="316.8" font-size="10.3" font-weight="bold" text-anchor="start" fill="#000">10 Min</text>
<text x="370.2" y="337.8" font-size="10.2" font-weight="bold" textLength="32.3" lengthAdjust="spacingAndGlyphs">AMPH</text>
<line x1="400.7" y1="339.7" x2="400.7" y2="343.68" stroke="#000" stroke-width="1.6"/>
<path d="M397.8 343.18L403.6 343.18L400.7 348.4Z" fill="#000"/>
<line x1="420.1" y1="353.8" x2="516.3" y2="353.8" stroke="#222" stroke-width="1" stroke-dasharray="1.3 1"/>
<polyline points="390.3,354.3 390.72,354.75 391.27,355.11 391.94,355.8 392.69,355.87 393.49,355.5 394.3,355.75 394.8,355.98 395.33,355.53 395.88,355.27 396.44,355.09 397.03,354.41 397.62,353.88 398.21,353.86 398.81,353.96 399.41,353.97 400,353.77 400.59,353.58 401.18,353.67 401.78,353.69 402.38,353.61 402.98,353.58 403.59,353.7 404.19,353.77 404.8,353.56 405.4,353.58 406,353.62 406.59,353.42 407.17,353.23 407.73,353.04 408.3,353.27 408.87,353.68 409.45,353.67 410.05,353.38 410.67,353.01 411.31,353.06 412,353.57 412.56,353.77 413.15,353.57 413.77,353.35 414.41,353.22 415.06,353.41 415.72,354.09 416.39,354.27 417.05,353.9 417.7,354.18 418.34,354.29 418.95,353.65 419.54,353.23 420.1,353.18 420.46,353.02 420.81,352.74 421.14,352.67 421.47,352.56 421.78,352.25 422.09,351.93 422.39,351.59 422.68,350.72 422.97,349.55 423.26,348.76 423.55,348.11 423.84,347.55 424.13,347.21 424.42,346.8 424.72,346.04 425.03,344.97 425.34,344.33 425.67,344.08 426,343.6 426.3,343.08 426.59,342.51 426.9,342.02 427.2,341.73 427.51,341.21 427.83,340.4 428.14,339.68 428.46,338.81 428.78,337.85 429.1,337.54 429.43,337.26 429.75,336.64 430.07,336.32 430.4,335.78 430.73,334.96 431.05,334.52 431.38,334.24 431.71,333.96 432.03,333.54 432.36,332.81 432.68,332.16 433,331.84 433.47,331.5 433.95,331.13 434.43,330.49 434.92,329.61 435.41,329 435.9,328.72 436.38,328.32 436.87,327.94 437.35,327.76 437.83,327.54 438.3,327.38 438.76,327.13 439.22,326.99 439.66,326.94 440.1,326.48 440.67,325.96 441.22,325.63 441.74,324.93 442.25,323.99 442.75,323.77 443.25,323.99 443.75,324.17 444.26,324.13 444.78,323.68 445.33,323.34 445.9,323.11 446.45,322.8 447.02,322.4 447.61,322.04 448.22,321.7 448.83,321.48 449.45,321.39 450.07,321.11 450.68,321.26 451.29,321.5 451.88,321.05 452.45,320.88 453,321.02 453.71,320.78 454.4,320.68 455.07,321.1 455.73,321.59 456.37,321.72 457,321.89 457.61,322.52 458.21,322.67 458.8,322.17 459.31,321.72 459.8,321.52 460.28,321.26 460.74,320.68 461.19,320.14 461.64,319.49 462.09,318.98 462.55,318.95 463.01,318.71 463.5,317.99 464.05,317.46 464.6,317.26 465.14,316.89 465.7,316.67 466.27,316.66 466.84,316.23 467.44,315.94 468.06,316.09 468.7,316.02 469.15,315.83 469.61,315.78 470.07,315.71 470.54,316.03 471.01,316.97 471.5,317.29 471.99,316.85 472.5,316.8 473.02,317.55 473.56,318.54 474.12,319.05 474.7,319.47 475.3,320.09 475.62,320.32 475.95,320.6 476.29,320.97 476.63,321.33 476.99,321.99 477.34,322.75 477.71,323.22 478.07,323.45 478.44,323.81 478.82,324.43 479.2,325.19 479.58,326.07 479.97,326.54 480.35,326.68 480.74,326.96 481.13,327.34 481.52,327.84 481.91,328.57 482.3,329.36 482.69,330.01 483.08,330.74 483.46,331.25 483.84,331.25 484.22,331.87 484.6,332.5 485.06,332.3 485.53,332.6 485.98,333.43 486.44,334.01 486.89,334.43 487.34,334.8 487.79,335.26 488.24,335.76 488.69,335.96 489.14,335.87 489.6,336.3 490.06,336.92 490.53,337.14 491,337.6 491.48,338.26 491.96,338.69 492.46,339.25 492.96,339.77 493.48,340.07 494,340.36 494.49,340.4 495,340.49 495.52,341.1 496.05,341.62 496.59,341.82 497.14,342.26 497.7,342.67 498.27,342.88 498.83,343.57 499.4,344.11 499.98,344.04 500.54,344.19 501.11,344.75 501.67,345.31 502.23,345.6 502.78,345.68 503.31,345.72 503.84,345.98 504.35,346.13 504.85,346.37 505.34,347.2 505.8,347.4 506.46,347.34 507.11,347.91 507.74,348.46 508.35,348.84 508.96,349 509.54,349 510.11,349.65 510.66,350.32 511.2,350.24 511.71,350.09 512.21,350.24 512.69,350.71 513.14,351.59 513.58,352.23 514,352.28 514.83,352.76 515.57,353.27 516.22,353.08 516.79,353.08 517.27,353.6 517.68,353.74 518,353.8" fill="none" stroke="#000" stroke-width="1.75" stroke-linejoin="round"/>
<text x="370.2" y="438.5" font-size="10.2" font-weight="bold" textLength="32.3" lengthAdjust="spacingAndGlyphs">AMPH</text>
<line x1="400.7" y1="440.1" x2="400.7" y2="444.36" stroke="#000" stroke-width="1.6"/>
<path d="M397.8 443.86L403.6 443.86L400.7 449.5Z" fill="#000"/>
<line x1="408.4" y1="453.5" x2="498.7" y2="453.5" stroke="#222" stroke-width="1" stroke-dasharray="1.3 1"/>
<polyline points="397.4,453.5 397.74,453.29 398.18,453.02 398.69,452.45 399.27,452.16 399.9,452.04 400.55,451.89 401.21,451.63 401.87,451.37 402.5,451.44 403.06,451.95 403.63,452.3 404.21,452.47 404.8,452.84 405.4,453.19 406,453.73 406.6,454.46 407.21,454.65 407.81,454.19 408.4,453.65 408.64,453.28 408.89,452.75 409.13,452.48 409.37,452.24 409.61,451.79 409.85,450.93 410.09,450.26 410.33,450.18 410.56,449.84 410.8,449.25 411.04,448.76 411.28,447.96 411.52,447.21 411.76,446.52 412.01,445.57 412.25,444.94 412.5,444.68 412.75,444.19 413,443.42 413.25,442.62 413.51,441.89 413.77,441.56 414.03,441.11 414.3,440.46 414.54,440.02 414.79,439.16 415.04,438.39 415.29,438.07 415.54,437.44 415.8,436.24 416.06,435.48 416.33,435.52 416.59,435.32 416.86,434.97 417.13,434.56 417.4,433.58 417.67,432.76 417.93,432.27 418.2,431.8 418.47,431.09 418.74,430.01 419.01,428.86 419.27,428.16 419.54,428.17 419.8,428.05 420.06,427.87 420.31,427.56 420.56,426.6 420.81,425.71 421.06,425.08 421.3,424.52 421.65,424.03 421.99,423.67 422.32,423.06 422.64,422.35 422.95,421.86 423.26,421.5 423.57,420.9 423.87,420.25 424.18,419.76 424.48,419.01 424.79,418.5 425.1,418.46 425.43,417.89 425.76,417.19 426.1,417.01 426.45,416.39 426.82,415.77 427.2,415.77 427.65,415.46 428.11,414.91 428.58,414.33 429.06,413.55 429.55,413.09 430.05,413.08 430.56,412.77 431.08,412.3 431.61,412.05 432.14,411.81 432.67,411.46 433.21,410.97 433.76,410.3 434.3,409.67 434.85,409.65 435.4,409.91 435.89,409.68 436.39,409.02 436.9,408.77 437.41,408.7 437.93,408.24 438.45,408.09 438.97,407.95 439.5,407.49 440.03,407.02 440.56,406.46 441.1,406.1 441.63,405.85 442.16,405.68 442.69,405.82 443.23,405.55 443.75,404.57 444.28,403.98 444.8,403.71 445.29,403.3 445.79,403.15 446.28,402.88 446.78,402.37 447.28,401.79 447.78,401.23 448.28,400.84 448.77,400.22 449.27,399.74 449.77,399.49 450.26,399.31 450.75,399.17 451.24,398.68 451.73,398.2 452.21,398.18 452.69,398.04 453.16,397.5 453.63,397.22 454.1,397.12 454.73,396.46 455.36,396.13 455.99,396.65 456.62,396.28 457.24,395.16 457.86,395 458.47,395.31 459.07,395.35 459.66,395.13 460.24,394.67 460.8,394.46 461.35,394.8 461.89,394.96 462.4,394.61 462.97,394.6 463.51,394.76 464.02,394.77 464.51,395.15 464.99,395.69 465.45,396.06 465.9,396.2 466.35,396.5 466.8,397.17 467.26,397.84 467.72,398.51 468.2,399.51 468.41,400.25 468.62,400.94 468.82,401.24 469.03,401.15 469.23,401.11 469.44,401.7 469.64,402.77 469.85,403.29 470.05,403.75 470.25,404.31 470.46,404.71 470.66,405.48 470.87,405.95 471.07,406.31 471.28,407.38 471.49,408.13 471.7,408.42 471.91,409.28 472.12,410.16 472.33,410.78 472.55,411.56 472.76,412.22 472.98,412.7 473.2,413.24 473.42,413.82 473.64,414.35 473.87,414.78 474.1,415.59 474.32,416.58 474.55,416.96 474.78,417.07 475.02,417.35 475.26,418.03 475.5,419.04 475.74,419.9 475.98,420.47 476.23,420.95 476.48,421.59 476.72,422.26 476.97,422.55 477.22,423.06 477.47,423.92 477.73,424.43 477.98,424.78 478.23,425.28 478.48,426.02 478.72,426.84 478.97,427.24 479.22,427.56 479.46,428.31 479.7,428.85 479.94,429.27 480.18,429.97 480.42,430.43 480.65,430.92 480.88,431.78 481.1,432.27 481.42,432.62 481.73,433.12 482.04,433.97 482.34,434.89 482.64,435.38 482.93,435.79 483.22,436.28 483.51,437.16 483.79,437.63 484.08,437.34 484.36,437.91 484.64,438.86 484.93,439.24 485.21,439.86 485.5,440.74 485.79,440.79 486.09,440.84 486.39,441.39 486.69,441.86 487,442.5 487.4,443.06 487.8,443.7 488.22,444.45 488.64,444.59 489.06,444.47 489.49,445.03 489.92,446.16 490.35,446.66 490.78,446.83 491.2,447.44 491.62,447.99 492.04,447.98 492.45,447.86 492.84,448.53 493.23,449.45 493.6,449.94 494.19,450.04 494.8,450.03 495.4,450.83 495.99,452.01 496.56,452.56 497.1,452.37 497.59,452.48 498.03,453.09 498.4,453.46 498.7,453.5" fill="none" stroke="#ff0000" stroke-width="1.75" stroke-linejoin="round"/>
<rect x="595.85" y="413.45" width="25.1" height="40.1" fill="none" stroke="#000" stroke-width="2.7"/>
<rect x="638.85" y="388.25" width="23.9" height="65.3" fill="none" stroke="#ff0000" stroke-width="2.7"/>
<circle cx="608.2" cy="366.9" r="2.3" fill="#000"/>
<circle cx="608.2" cy="394.1" r="2.3" fill="#000"/>
<circle cx="608.2" cy="400.9" r="2.3" fill="#000"/>
<circle cx="596.1" cy="408.6" r="2.3" fill="#000"/>
<circle cx="620.3" cy="408.6" r="2.3" fill="#000"/>
<circle cx="604.1" cy="410.6" r="2.3" fill="#000"/>
<circle cx="612.3" cy="410.6" r="2.3" fill="#000"/>
<circle cx="604.1" cy="416.8" r="2.3" fill="#000"/>
<circle cx="596.5" cy="419.1" r="2.3" fill="#000"/>
<circle cx="620.3" cy="418.5" r="2.3" fill="#000"/>
<circle cx="612.3" cy="420.6" r="2.3" fill="#000"/>
<circle cx="608.2" cy="433.2" r="2.3" fill="#000"/>
<circle cx="608.2" cy="443.8" r="2.3" fill="#000"/>
<rect x="648.25" y="327.05" width="4.7" height="4.7" fill="#ff0000"/>
<rect x="648.25" y="331.75" width="4.7" height="4.7" fill="#ff0000"/>
<rect x="648.25" y="353.45" width="4.7" height="4.7" fill="#ff0000"/>
<rect x="652.75" y="361.65" width="4.7" height="4.7" fill="#ff0000"/>
<rect x="643.95" y="363.95" width="4.7" height="4.7" fill="#ff0000"/>
<rect x="648.25" y="370.25" width="4.7" height="4.7" fill="#ff0000"/>
<rect x="648.25" y="397.15" width="4.7" height="4.7" fill="#ff0000"/>
<rect x="658.05" y="399.95" width="4.7" height="4.7" fill="#ff0000"/>
<rect x="648.25" y="403.25" width="4.7" height="4.7" fill="#ff0000"/>
<rect x="648.25" y="414.45" width="4.7" height="4.7" fill="#ff0000"/>
<rect x="639.25" y="422.95" width="4.7" height="4.7" fill="#ff0000"/>
<rect x="648.25" y="420.85" width="4.7" height="4.7" fill="#ff0000"/>
<rect x="658.05" y="421.45" width="4.7" height="4.7" fill="#ff0000"/>
<line x1="608.4" y1="416.2" x2="608.4" y2="406.8" stroke="#000" stroke-width="1.6"/>
<line x1="601.35" y1="406.8" x2="615.45" y2="406.8" stroke="#000" stroke-width="1.6"/>
<line x1="601.35" y1="416.2" x2="615.45" y2="416.2" stroke="#000" stroke-width="1.6"/>
<line x1="650.8" y1="395.4" x2="650.8" y2="376.7" stroke="#ff0000" stroke-width="1.6"/>
<line x1="643.6" y1="376.7" x2="658" y2="376.7" stroke="#ff0000" stroke-width="1.6"/>
<line x1="643.6" y1="395.4" x2="658" y2="395.4" stroke="#ff0000" stroke-width="1.6"/>
<line x1="580" y1="303.8" x2="580" y2="454.9" stroke="#000" stroke-width="2"/>
<line x1="573.8" y1="453.9" x2="580" y2="453.9" stroke="#000" stroke-width="1.9"/>
<text x="572.4" y="457.65" font-size="10.4" font-weight="bold" text-anchor="end" fill="#000">0</text>
<line x1="573.8" y1="404.2" x2="580" y2="404.2" stroke="#000" stroke-width="1.9"/>
<text x="572.4" y="407.95" font-size="10.4" font-weight="bold" text-anchor="end" fill="#000">1</text>
<line x1="573.8" y1="354.5" x2="580" y2="354.5" stroke="#000" stroke-width="1.9"/>
<text x="572.4" y="358.25" font-size="10.4" font-weight="bold" text-anchor="end" fill="#000">2</text>
<line x1="573.8" y1="304.8" x2="580" y2="304.8" stroke="#000" stroke-width="1.9"/>
<text x="572.4" y="308.55" font-size="10.4" font-weight="bold" text-anchor="end" fill="#000">3</text>
<line x1="580" y1="453.9" x2="678.7" y2="453.9" stroke="#000" stroke-width="2"/>
<line x1="607.9" y1="453.9" x2="607.9" y2="460.4" stroke="#000" stroke-width="1.9"/>
<line x1="650.5" y1="453.9" x2="650.5" y2="460.4" stroke="#000" stroke-width="1.9"/>
<text x="613.6" y="473.7" font-size="13.8" font-weight="bold" text-anchor="end" fill="#000" transform="rotate(-45 613.6 473.7)">CTR</text>
<text x="655.4" y="473.7" font-size="13.8" font-weight="bold" text-anchor="end" fill="#000" transform="rotate(-45 655.4 473.7)">TSA</text>
<text x="558.3" y="379.7" font-size="15.5" text-anchor="middle" fill="#000" transform="rotate(-90 558.3 379.7)" stroke="#000" stroke-width="0.45">Peak Amplitude (pA)</text>
<path d="M608.3 358.1V312H650.6V320.8" fill="none" stroke="#000" stroke-width="2.1" stroke-linejoin="miter"/>
<line x1="629.6" y1="299.1" x2="629.6" y2="305.7" stroke="#000" stroke-width="1.5"/>
<line x1="626.74" y1="300.75" x2="632.46" y2="304.05" stroke="#000" stroke-width="1.5"/>
<line x1="626.74" y1="304.05" x2="632.46" y2="300.75" stroke="#000" stroke-width="1.5"/>
<text x="347" y="527.3" font-size="24.5" text-anchor="start" fill="#000">F</text>
<text x="453.4" y="521.7" font-size="12.1" font-weight="bold" text-anchor="middle" fill="#000">mCherry RNAi</text>
<text x="458.7" y="622" font-size="12.4" font-weight="bold" text-anchor="middle" fill="#000" xml:space="preserve">HDAC1  RNAi</text>
<path d="M503.6 536.1V558.4H536.5" fill="none" stroke="#000" stroke-width="1.4"/>
<text x="497.6" y="545.2" font-size="10.3" font-weight="bold" text-anchor="middle" fill="#000" transform="rotate(-90 497.6 545.2)">0.5 pA</text>
<text x="502.6" y="569.1" font-size="10.3" font-weight="bold" text-anchor="start" fill="#000">10 Min</text>
<text x="368.2" y="582" font-size="10.2" font-weight="bold" textLength="30.5" lengthAdjust="spacingAndGlyphs">AMPH</text>
<line x1="394.7" y1="584.3" x2="394.7" y2="588.84" stroke="#000" stroke-width="1.6"/>
<path d="M391.8 588.34L397.6 588.34L394.7 594.4Z" fill="#000"/>
<line x1="408.1" y1="599.6" x2="499.6" y2="599.6" stroke="#222" stroke-width="1" stroke-dasharray="1.3 1"/>
<polyline points="386.3,598.9 386.69,598.99 387.2,599.08 387.83,599.26 388.52,599.42 389.25,599.41 390,599.55 390.58,599.97 391.19,600.09 391.84,600.03 392.5,600.24 393.18,600.35 393.86,600.19 394.53,600.25 395.2,600.43 395.89,600.35 396.61,599.93 397.36,599.7 398.09,599.91 398.8,599.85 399.45,599.54 400.03,599.37 400.5,599.28 401.46,599.31 401.8,598.81 401.89,598.35 401.96,597.7 402.02,596.83 402.06,596.01 402.09,595.27 402.12,594.55 402.16,594.09 402.2,593.91 402.24,594.28 402.25,594.98 402.26,595.49 402.27,596.13 402.3,597.08 402.36,597.83 402.45,598.29 402.6,598.85 403.01,599.38 403.56,599.34 404.22,599.22 405,599.21 405.49,599.27 406.01,599.3 406.57,599.22 407.17,599.05 407.82,598.92 408.53,598.69 409.3,598.3 409.69,597.95 410.11,597.55 410.54,597.4 411,597.17 411.47,596.77 411.96,596.54 412.45,596.27 412.95,595.99 413.45,595.48 413.95,594.61 414.44,594.02 414.93,593.72 415.4,593.75 415.86,593.34 416.3,592.3 416.65,591.91 417,591.68 417.33,591.17 417.66,590.5 417.99,589.84 418.31,589.57 418.62,589.2 418.94,588.49 419.25,587.91 419.56,587.42 419.88,586.84 420.19,586.25 420.51,585.48 420.84,584.76 421.17,584.5 421.5,584.28 421.85,583.75 422.2,583.11 422.58,582.67 422.98,582.33 423.38,581.9 423.79,581.63 424.21,581.11 424.63,580.08 425.06,579.4 425.49,579.4 425.91,579.26 426.34,578.74 426.77,578.1 427.19,577.4 427.61,576.98 428.02,576.7 428.42,576.06 428.82,575.44 429.2,575.48 429.77,575.65 430.32,575.22 430.86,574.33 431.38,573.86 431.89,573.65 432.41,573.47 432.92,573.35 433.44,572.92 433.98,572.53 434.53,572.36 435.1,571.93 435.56,571.56 436.03,571.21 436.51,570.83 436.98,570.46 437.47,569.84 437.96,569.12 438.46,568.64 438.96,568.43 439.47,568.28 439.98,568.07 440.5,567.82 441.03,567.51 441.56,567.04 442.1,566.5 442.62,566 443.15,565.6 443.7,565.55 444.26,565.52 444.83,565.19 445.4,564.75 445.98,564.46 446.56,564.27 447.13,563.99 447.69,563.75 448.25,563.52 448.79,563.32 449.31,563.14 449.82,562.78 450.3,562.51 450.97,562.36 451.57,562.48 452.13,562.92 452.66,563.06 453.18,562.93 453.7,563.1 454.25,563.48 454.83,563.84 455.48,564.07 456.2,564.22 456.55,564.48 456.92,565.11 457.3,565.59 457.7,565.7 458.1,565.81 458.51,566.18 458.93,566.56 459.36,567.13 459.8,567.78 460.24,568.11 460.68,568.69 461.13,569.52 461.58,569.93 462.03,570.09 462.49,570.42 462.94,571.11 463.39,571.82 463.84,572.29 464.29,572.69 464.73,573.05 465.17,573.43 465.6,573.85 466.01,574.41 466.42,574.82 466.83,574.99 467.24,575.47 467.65,576.04 468.05,576.41 468.46,576.95 468.87,577.76 469.28,578.42 469.69,578.73 470.1,578.86 470.51,579.29 470.92,580.05 471.33,580.49 471.74,580.67 472.15,581.03 472.55,581.49 472.96,581.95 473.37,582.55 473.78,583.13 474.19,583.54 474.59,583.86 475,584.3 475.47,584.89 475.94,585.08 476.41,585.29 476.88,585.88 477.36,586.35 477.83,586.76 478.3,587.35 478.78,587.83 479.25,588.14 479.72,588.76 480.19,589.48 480.66,589.82 481.12,590.03 481.59,590.37 482.05,590.74 482.51,591.17 482.96,591.6 483.41,591.66 483.86,591.73 484.3,592.2 484.88,592.82 485.45,593.3 486.01,593.66 486.56,594.23 487.1,594.72 487.64,594.65 488.18,594.64 488.72,594.79 489.26,594.93 489.8,595.41 490.34,596.04 490.89,596.21 491.45,596.19 492.02,596.58 492.6,597.11 493.17,597.3 493.78,597.52 494.41,597.98 495.07,598.47 495.74,598.76 496.42,598.75 497.1,598.67 497.77,598.9 498.42,599.31 499.05,599.37 499.65,599.22 500.21,599.3 500.72,599.43 501.18,599.42 501.57,599.32 501.9,599.6" fill="none" stroke="#000" stroke-width="1.75" stroke-linejoin="round"/>
<text x="369.4" y="679.3" font-size="10.2" font-weight="bold" textLength="30.5" lengthAdjust="spacingAndGlyphs">AMPH</text>
<line x1="399.9" y1="681.6" x2="399.9" y2="686.06" stroke="#000" stroke-width="1.6"/>
<path d="M397 685.56L402.8 685.56L399.9 691.5Z" fill="#000"/>
<line x1="416.3" y1="696.4" x2="505.5" y2="696.4" stroke="#222" stroke-width="1" stroke-dasharray="1.3 1"/>
<polyline points="391.7,695.7 392.07,695.42 392.55,696 393.1,696.03 393.73,695.9 394.41,696.39 395.13,696.31 395.86,696.07 396.59,696.62 397.31,697.04 398,696.8 398.62,696.29 399.26,696.24 399.91,696.34 400.58,696.16 401.25,696.13 401.91,695.9 402.57,695.26 403.22,694.86 403.84,694.88 404.44,695.01 405,695.21 405.72,695.45 406.39,695.57 407.02,695.47 407.62,695.37 408.21,695.62 408.79,696.09 409.38,696.21 410,695.99 410.64,696.09 411.28,696.35 411.92,696.31 412.57,696.52 413.21,696.67 413.85,696.44 414.48,696.09 415.1,695.65 415.45,695.58 415.8,695.1 416.16,694.47 416.51,694.25 416.86,694.02 417.21,693.68 417.55,693.04 417.89,692.46 418.23,692.01 418.56,691.4 418.88,690.74 419.2,690.11 419.5,689.54 419.8,688.82 419.97,687.94 420.13,687.22 420.29,687.24 420.44,686.71 420.59,685.8 420.73,685.58 420.87,685.46 421.01,684.82 421.15,684.09 421.28,683.69 421.42,683.33 421.55,682.84 421.68,682 421.82,681.11 421.95,680.21 422.09,679.53 422.23,679.36 422.37,679.05 422.51,678.46 422.66,677.53 422.81,676.26 422.97,675.26 423.13,674.75 423.3,674.22 423.45,673.82 423.6,673.58 423.75,673.05 423.91,672.33 424.07,671.74 424.23,671.17 424.39,670.69 424.56,670.31 424.72,669.61 424.89,668.46 425.06,667.8 425.23,667.69 425.4,667.25 425.58,666.35 425.75,665.3 425.92,664.72 426.1,664.19 426.27,663.36 426.45,662.98 426.62,662.89 426.8,662.63 426.97,661.91 427.14,660.67 427.32,659.9 427.49,659.85 427.66,659.59 427.83,658.71 428,657.98 428.22,657.68 428.45,657.27 428.67,656.42 428.9,655.57 429.12,655.08 429.34,654.52 429.57,653.44 429.79,652.6 430.01,652.45 430.24,652.14 430.46,651.59 430.69,651.01 430.91,650.25 431.13,649.63 431.36,649.23 431.58,649.07 431.8,648.72 432.03,648.19 432.25,648.03 432.48,647.64 432.7,646.9 433.06,646.22 433.44,645.59 433.81,644.62 434.19,643.65 434.56,643.06 434.94,642.94 435.31,642.77 435.68,642.19 436.04,641.53 436.4,640.99 436.74,640.41 437.08,640.01 437.4,639.94 438,639.13 438.48,638.24 438.93,637.81 439.43,637.82 440.06,638.25 440.9,638.42 441.28,638.25 441.69,638.73 442.13,639.06 442.59,638.8 443.08,638.75 443.58,639.17 444.1,639.78 444.63,640.35 445.18,640.47 445.73,640.65 446.29,641.24 446.86,641.86 447.42,642.47 447.99,642.79 448.55,643.13 449.1,643.7 449.48,644.38 449.87,645.23 450.27,645.71 450.66,645.94 451.06,645.99 451.47,646.01 451.87,646.46 452.28,646.97 452.69,647.49 453.1,648.12 453.52,648.45 453.93,648.71 454.35,648.97 454.77,649.49 455.18,650.65 455.6,651.54 456.02,651.67 456.43,651.47 456.85,651.74 457.27,652.92 457.68,653.98 458.09,654.46 458.5,655.09 458.86,655.73 459.22,655.96 459.58,656.17 459.95,656.8 460.31,657.11 460.67,657.1 461.03,657.45 461.39,658.01 461.75,658.83 462.12,659.49 462.48,659.52 462.84,660 463.2,661.17 463.56,662.04 463.92,662.35 464.28,662.58 464.65,663.5 465.01,664.6 465.37,664.92 465.73,664.88 466.09,665.15 466.45,665.75 466.82,666.49 467.18,667 467.54,667.02 467.9,667.24 468.31,667.96 468.72,668.57 469.13,669.16 469.53,669.89 469.94,670.63 470.35,670.95 470.76,671.05 471.17,671.72 471.58,672.38 471.99,672.55 472.4,673.07 472.8,673.87 473.21,674.35 473.62,674.36 474.03,674.22 474.44,674.64 474.85,675.51 475.26,676.48 475.67,677.05 476.07,677.12 476.48,677.57 476.89,677.82 477.3,677.64 477.77,678.14 478.24,678.89 478.71,679.34 479.18,679.87 479.65,680.35 480.12,680.69 480.59,681.14 481.06,681.45 481.53,681.88 482,682.44 482.47,682.81 482.94,683.47 483.41,684.12 483.88,684.24 484.35,684.48 484.82,684.93 485.29,685.33 485.76,685.63 486.23,685.81 486.7,686.22 487.19,686.53 487.68,687.04 488.17,687.73 488.66,688.11 489.15,688.7 489.63,689.24 490.12,689.36 490.6,689.48 491.09,690.14 491.58,690.66 492.06,690.62 492.56,691.1 493.05,691.82 493.55,691.8 494.05,691.61 494.55,691.92 495.06,692.45 495.58,692.82 496.1,693.22 496.67,693.6 497.28,693.6 497.91,693.9 498.56,694.15 499.23,694.1 499.91,694.61 500.59,694.85 501.27,694.29 501.94,694.09 502.59,694.18 503.23,694.41 503.84,694.74 504.41,694.86 504.95,695.42 505.44,695.68 505.89,695.25 506.28,695.06 506.6,695.7" fill="none" stroke="#ff0000" stroke-width="1.75" stroke-linejoin="round"/>
<rect x="599.65" y="646.65" width="24.2" height="46" fill="none" stroke="#000" stroke-width="2.7"/>
<rect x="641.15" y="614.95" width="24.3" height="77.7" fill="none" stroke="#ff0000" stroke-width="2.7"/>
<circle cx="612" cy="621.2" r="2.9" fill="#000"/>
<circle cx="612" cy="637" r="2.9" fill="#000"/>
<circle cx="607.2" cy="642.8" r="2.9" fill="#000"/>
<circle cx="616.4" cy="643.4" r="2.9" fill="#000"/>
<circle cx="607.2" cy="647.9" r="2.9" fill="#000"/>
<circle cx="616.2" cy="651.3" r="2.9" fill="#000"/>
<circle cx="611.9" cy="669" r="2.9" fill="#000"/>
<rect x="650.5" y="556" width="5.6" height="5.6" fill="#ff0000"/>
<rect x="650.5" y="582.6" width="5.6" height="5.6" fill="#ff0000"/>
<rect x="646.3" y="611.2" width="5.6" height="5.6" fill="#ff0000"/>
<rect x="655.2" y="615.3" width="5.6" height="5.6" fill="#ff0000"/>
<rect x="646" y="618.4" width="5.6" height="5.6" fill="#ff0000"/>
<rect x="650.6" y="630" width="5.6" height="5.6" fill="#ff0000"/>
<rect x="650.5" y="660.7" width="5.6" height="5.6" fill="#ff0000"/>
<line x1="611.75" y1="645.3" x2="611.75" y2="639.3" stroke="#000" stroke-width="1.6"/>
<line x1="604.9" y1="639.3" x2="618.6" y2="639.3" stroke="#000" stroke-width="1.6"/>
<line x1="653.3" y1="613.6" x2="653.3" y2="600.7" stroke="#ff0000" stroke-width="1.6"/>
<line x1="646.35" y1="600.7" x2="660.25" y2="600.7" stroke="#ff0000" stroke-width="1.6"/>
<line x1="584.9" y1="548.1" x2="584.9" y2="694" stroke="#000" stroke-width="2"/>
<line x1="578.7" y1="693" x2="584.9" y2="693" stroke="#000" stroke-width="1.9"/>
<text x="576.6" y="696.75" font-size="10.4" font-weight="bold" text-anchor="end" fill="#000">0.0</text>
<line x1="578.7" y1="664.22" x2="584.9" y2="664.22" stroke="#000" stroke-width="1.9"/>
<text x="576.6" y="667.97" font-size="10.4" font-weight="bold" text-anchor="end" fill="#000">0.5</text>
<line x1="578.7" y1="635.44" x2="584.9" y2="635.44" stroke="#000" stroke-width="1.9"/>
<text x="576.6" y="639.19" font-size="10.4" font-weight="bold" text-anchor="end" fill="#000">1.0</text>
<line x1="578.7" y1="606.66" x2="584.9" y2="606.66" stroke="#000" stroke-width="1.9"/>
<text x="576.6" y="610.41" font-size="10.4" font-weight="bold" text-anchor="end" fill="#000">1.5</text>
<line x1="578.7" y1="577.88" x2="584.9" y2="577.88" stroke="#000" stroke-width="1.9"/>
<text x="576.6" y="581.63" font-size="10.4" font-weight="bold" text-anchor="end" fill="#000">2.0</text>
<line x1="578.7" y1="549.1" x2="584.9" y2="549.1" stroke="#000" stroke-width="1.9"/>
<text x="576.6" y="552.85" font-size="10.4" font-weight="bold" text-anchor="end" fill="#000">2.5</text>
<line x1="584.9" y1="693" x2="682.5" y2="693" stroke="#000" stroke-width="2"/>
<line x1="611.7" y1="693" x2="611.7" y2="699.5" stroke="#000" stroke-width="1.9"/>
<line x1="653.1" y1="693" x2="653.1" y2="699.5" stroke="#000" stroke-width="1.9"/>
<text x="615.7" y="714.3" font-size="13.8" font-weight="bold" text-anchor="end" fill="#000" transform="rotate(-45 615.7 714.3)">mCherry RNAi</text>
<text x="657" y="714.3" font-size="13.8" font-weight="bold" text-anchor="end" fill="#000" transform="rotate(-45 657 714.3)">HDAC1 RNAi</text>
<text x="554.1" y="621.6" font-size="13.8" font-weight="bold" text-anchor="middle" fill="#000" transform="rotate(-90 554.1 621.6)">Peak Amplitude (pA)</text>
<path d="M611.6 612.7V541.3H653.2V550" fill="none" stroke="#000" stroke-width="2.1" stroke-linejoin="miter"/>
<line x1="632.4" y1="529.2" x2="632.4" y2="535.8" stroke="#000" stroke-width="1.5"/>
<line x1="629.54" y1="530.85" x2="635.26" y2="534.15" stroke="#000" stroke-width="1.5"/>
<line x1="629.54" y1="534.15" x2="635.26" y2="530.85" stroke="#000" stroke-width="1.5"/>
<text x="345.3" y="807.1" font-size="24.5" text-anchor="start" fill="#000">H</text>
<text x="432.3" y="804.7" font-size="12.2" text-anchor="middle" fill="#000" stroke="#000" stroke-width="0.45">CTR</text>
<text x="446.9" y="875.9" font-size="12.2" font-weight="bold" text-anchor="middle" fill="#000">Butyrate</text>
<text x="447.6" y="966.5" font-size="11.6" font-weight="bold" text-anchor="middle" fill="#000">Butyrate + AA</text>
<path d="M478.4 782.8V803.4H503" fill="none" stroke="#333" stroke-width="1.4"/>
<text x="471.2" y="793.4" font-size="10.6" font-weight="bold" text-anchor="middle" fill="#000" transform="rotate(-90 471.2 793.4)">0.5 pA</text>
<text x="482" y="815.2" font-size="10.6" font-weight="bold" text-anchor="start" fill="#000">10 Min</text>
<text x="367.5" y="820.2" font-size="10.2" font-weight="bold" textLength="29.6" lengthAdjust="spacingAndGlyphs">AMPH</text>
<line x1="395.9" y1="822.6" x2="395.9" y2="827.34" stroke="#000" stroke-width="1.6"/>
<path d="M393 826.84L398.8 826.84L395.9 833.2Z" fill="#000"/>
<line x1="385.8" y1="842.1" x2="483.2" y2="842.1" stroke="#222" stroke-width="1" stroke-dasharray="1.3 1"/>
<polyline points="383.5,837.8 383.77,837.16 384.16,836.48 384.6,836.21 385.07,835.82 385.5,835.47 385.83,835.62 386.17,836.25 386.5,836.94 386.83,837.58 387.17,838.01 387.5,837.97 387.83,838.57 388.17,839.07 388.5,837.71 388.83,836.26 389.17,835.8 389.5,835.2 389.83,835.04 390.17,836.25 390.5,837.85 390.83,838.68 391.17,838.76 391.5,838.47 391.9,838.54 392.3,838.76 392.7,837.73 393.1,835.92 393.5,834.93 394.02,836.23 394.54,838.13 395.05,838.32 395.5,838.34 395.86,838.03 396.16,836.71 396.45,835.37 396.8,835.02 396.9,835.85 396.99,837.04 397.09,837.38 397.2,837.51 397.3,837.64 397.41,838.51 397.51,840.01 397.63,840.73 397.74,841.05 397.85,842.06 397.97,842.84 398.09,843.25 398.21,843.91 398.33,844.19 398.45,844.64 398.57,844.87 398.7,844.77 399.24,846.2 399.8,846.72 400.41,846.5 401.1,846.83 401.44,847.14 401.8,846.97 402.19,846.55 402.58,845.33 402.98,844.85 403.39,845.33 403.8,844.92 404.21,843.71 404.6,842.52 404.77,842.32 404.94,842.07 405.11,841.47 405.28,841.01 405.45,840.41 405.61,839.14 405.78,837.81 405.94,837.49 406.11,837.54 406.28,836.54 406.44,835.31 406.61,834.76 406.79,834.17 406.96,833.49 407.14,833.05 407.32,832.52 407.51,831.79 407.7,831.28 407.9,830.99 408.1,830.62 408.38,830.15 408.67,829.74 408.96,828.6 409.27,827.2 409.58,826.75 409.89,826.83 410.21,826.41 410.54,825.33 410.86,824.75 411.19,824.64 411.52,824.54 411.84,824.33 412.16,823.81 412.48,823.08 412.8,821.69 413.19,821.09 413.59,821.71 413.99,821.53 414.39,820.74 414.79,820.15 415.19,819.33 415.59,818.63 415.99,818.44 416.37,818.16 416.76,817.88 417.13,816.91 417.5,815.46 418.03,815.27 418.54,815.66 419.04,814.96 419.53,814.12 420.02,813.73 420.5,813.17 421,812.89 421.5,813.15 421.9,813.77 422.28,814.31 422.66,814.7 423.03,815.61 423.41,816.47 423.81,816.8 424.23,816.84 424.68,816.88 425.17,817.27 425.7,817.69 426,817.89 426.31,818.34 426.64,819.22 426.97,820.37 427.31,820.64 427.66,820.06 428.02,820.08 428.39,821.06 428.76,821.71 429.14,821.83 429.52,821.92 429.91,822.6 430.31,824.07 430.7,825.6 431.1,826.61 431.5,826.47 431.9,826.66 432.3,827.55 432.7,827.75 433.15,827.8 433.61,827.97 434.08,828.71 434.55,830.01 435.02,830.91 435.51,831.08 435.99,830.8 436.48,830.7 436.97,831.22 437.46,831.73 437.96,831.91 438.45,832.8 438.95,833.97 439.44,834.04 439.93,833.82 440.42,834.12 440.9,834.04 441.48,833.79 442.06,834.4 442.64,835.84 443.21,836.37 443.78,835.59 444.35,835.27 444.93,836.29 445.5,837.58 446.08,837.34 446.67,836.11 447.26,835.59 447.87,836.48 448.48,838.02 449.1,838.52 449.63,837.77 450.16,837.34 450.72,837.25 451.28,837.57 451.85,838.38 452.42,838.89 453,839.06 453.58,838.63 454.16,838.82 454.73,839.69 455.3,840.19 455.87,840.73 456.42,840.67 456.96,840.55 457.49,841.36 458.01,841.38 458.5,841.12 459.22,842.04 459.9,842.38 460.54,841.5 461.15,840.48 461.75,840.35 462.35,841 462.95,841.01 463.56,840.15 464.2,839.45 464.88,839.42 465.6,840.18 466.13,840.47 466.67,839.98 467.24,840.39 467.82,841.56 468.41,842.25 469.01,841.99 469.62,841.25 470.23,840.82 470.85,840.97 471.46,841.53 472.07,842.11 472.68,842.79 473.28,843.41 473.87,842.99 474.44,842.79 475,843.71 475.64,844 476.31,843.41 476.98,842.7 477.67,842.31 478.35,843.07 479.03,843.94 479.69,843.61 480.32,843.46 480.93,844.21 481.49,844.82 482.01,845.13 482.47,845.53 482.87,845.46 483.2,844.9" fill="none" stroke="#3a3a3a" stroke-width="1.75" stroke-linejoin="round"/>
<text x="367.5" y="916.8" font-size="10.2" font-weight="bold" textLength="30" lengthAdjust="spacingAndGlyphs">AMPH</text>
<line x1="396.4" y1="918.7" x2="396.4" y2="924.5" stroke="#000" stroke-width="1.6"/>
<path d="M393.5 924L399.3 924L396.4 930.4Z" fill="#000"/>
<line x1="402.2" y1="938.7" x2="479.6" y2="938.7" stroke="#222" stroke-width="1" stroke-dasharray="1.3 1"/>
<polyline points="382.3,938.7 382.72,938.69 383.31,938.84 384.01,938.98 384.74,939.1 385.43,939.3 386,939.48 386.53,940.05 386.98,940.65 387.38,940.96 387.78,941.12 388.2,941.15 388.53,940.98 388.8,940.6 389.08,940.42 389.42,940.25 389.87,939.44 390.5,938.58 390.97,938.09 391.51,937.95 392.11,938.18 392.74,938.29 393.42,938.49 394.12,938.87 394.84,938.98 395.56,938.78 396.29,938.47 397,938.72 397.61,939.13 398.26,939.27 398.95,939.4 399.65,939.44 400.36,939.17 401.06,938.82 401.75,938.67 402.42,938.78 403.05,939.25 403.63,939.36 404.15,938.89 404.6,938.37 404.93,938.35 405.21,938.65 405.44,938.28 405.64,937.5 405.81,936.73 405.95,935.55 406.08,934.68 406.19,934.35 406.29,933.82 406.39,933.26 406.5,933.16 406.61,932.77 406.75,931.46 406.9,930.36 406.99,929.99 407.09,929.56 407.18,929.36 407.28,928.76 407.38,927.67 407.47,926.99 407.57,926.54 407.66,925.78 407.76,924.69 407.86,923.65 407.95,923.21 408.05,923.2 408.15,922.81 408.25,921.75 408.34,920.68 408.44,920.18 408.54,919.6 408.63,918.79 408.73,918.41 408.82,918.26 408.92,917.75 409.02,917.04 409.11,916.37 409.21,915.66 409.3,915.14 409.42,914.6 409.54,913.96 409.66,913.18 409.78,912.42 409.9,911.7 410.02,911.32 410.13,911.17 410.25,910.47 410.37,909.86 410.48,909.63 410.6,908.65 410.72,907.44 410.84,907.08 410.96,906.99 411.08,906.63 411.21,905.96 411.34,904.89 411.47,903.75 411.6,903.14 411.74,902.9 411.88,902.27 412.03,901.33 412.17,900.65 412.31,900.14 412.46,899.65 412.61,899.05 412.76,898.15 412.91,897.51 413.06,897.48 413.22,897.08 413.37,896.23 413.54,895.66 413.7,895.14 413.87,894.58 414.04,893.9 414.22,893.26 414.4,893.09 414.77,892.35 415.15,891.57 415.54,891.47 415.95,891.31 416.37,890.81 416.8,890.28 417.25,889.55 417.72,888.88 418.2,888.58 418.64,888.65 419.07,888.96 419.5,889.33 419.94,889.4 420.4,889.7 420.89,890.93 421.41,891.72 421.98,891.79 422.61,892.35 423.3,893.16 423.58,893.35 423.88,893.56 424.18,893.81 424.49,894.18 424.8,894.76 425.13,895.33 425.46,895.7 425.8,896.03 426.14,896.61 426.49,897.31 426.85,897.76 427.21,898.11 427.58,898.9 427.95,899.74 428.33,900.13 428.71,900.35 429.1,900.77 429.49,901.51 429.88,902.47 430.28,903.14 430.68,903.27 431.08,903.58 431.48,904.3 431.89,904.77 432.29,904.98 432.7,905.46 433.07,906.21 433.45,906.7 433.83,906.78 434.23,907.23 434.62,907.88 435.03,908.26 435.44,908.88 435.85,909.52 436.27,909.76 436.69,910.04 437.11,910.6 437.54,911.2 437.96,911.64 438.39,912.13 438.82,912.58 439.25,912.75 439.67,913.25 440.1,914.08 440.52,914.6 440.94,914.91 441.36,915.3 441.77,915.77 442.18,916.54 442.58,917.13 442.98,917.22 443.37,917.4 443.76,917.82 444.13,918.59 444.5,919.16 444.96,919.23 445.41,919.47 445.85,920.33 446.29,921.24 446.73,921.78 447.16,921.84 447.59,921.74 448.01,922.46 448.42,923.31 448.83,923.67 449.24,924.53 449.64,925.37 450.04,925.68 450.44,925.88 450.83,925.87 451.21,926.02 451.59,926.63 451.97,927.2 452.34,927.75 452.71,928.27 453.08,928.6 453.44,929 453.8,929.44 454.3,930.15 454.79,930.94 455.27,931.3 455.73,931.49 456.18,931.82 456.63,932.43 457.06,933.22 457.49,933.46 457.92,933.49 458.34,933.94 458.76,934.49 459.18,935.05 459.61,935.47 460.03,935.63 460.46,936.02 460.9,936.25 461.52,936.34 462.12,936.74 462.69,937.16 463.26,937.33 463.82,937.36 464.41,937.24 465.01,936.93 465.65,937.09 466.34,937.71 467.09,937.89 467.9,937.56 468.42,937.47 468.99,937.4 469.61,936.91 470.26,936.98 470.94,937.49 471.65,937.39 472.37,936.74 473.1,936.65 473.82,937.18 474.55,937.05 475.26,936.63 475.95,936.77 476.61,936.57 477.24,936.16 477.82,936.57 478.36,936.52 478.84,936.03 479.25,936.02 479.6,936.3" fill="none" stroke="#ff0000" stroke-width="1.75" stroke-linejoin="round"/>
<text x="365.9" y="985.2" font-size="10.2" font-weight="bold" textLength="30.5" lengthAdjust="spacingAndGlyphs">AMPH</text>
<line x1="394.7" y1="986.4" x2="394.7" y2="991.14" stroke="#000" stroke-width="1.6"/>
<path d="M391.8 990.64L397.6 990.64L394.7 997Z" fill="#000"/>
<line x1="395.2" y1="1000" x2="480.8" y2="1000" stroke="#222" stroke-width="1" stroke-dasharray="1.3 1"/>
<polyline points="383.5,1000.5 383.74,1000.56 384.08,999.82 384.57,998.68 385.3,998.26 385.71,998.42 386.15,998.21 386.63,998.2 387.15,998.56 387.71,998.81 388.33,999.07 389,999.63 389.72,1000.03 390.5,1000.32 391,1000.52 391.53,1000.51 392.07,1000.53 392.65,1000.53 393.24,1000.36 393.85,1000.19 394.47,1000.45 395.12,1000.67 395.77,1000.59 396.44,1000.62 397.12,1000.67 397.81,1000.45 398.5,1000.24 399.2,1000.48 399.9,1000.7 400.46,1000.62 401.05,1000.57 401.64,1000.82 402.25,1001 402.87,1000.75 403.5,1000.72 404.14,1001.06 404.78,1001.11 405.43,1000.99 406.07,1000.74 406.72,1000.3 407.36,1000.21 408,1000.23 408.63,999.89 409.25,999.73 409.86,999.81 410.45,999.66 411.04,999.53 411.6,999.5 412.25,999.33 412.89,999.31 413.52,999.31 414.14,999.09 414.75,998.62 415.35,997.92 415.94,997.54 416.52,997.66 417.09,998 417.66,997.86 418.23,997.27 418.79,996.95 419.34,996.65 419.9,996.38 420.45,996.44 421,996.48 421.59,996.38 422.18,996.05 422.77,995.63 423.36,995.62 423.95,995.54 424.53,995.13 425.11,994.74 425.68,994.2 426.23,993.75 426.77,993.56 427.3,993.78 427.8,993.94 428.29,993.48 428.76,993.07 429.2,992.62 429.64,992.09 430.04,991.56 430.42,990.95 430.76,990.62 431.09,989.91 431.4,989.07 431.69,988.82 431.99,988.52 432.28,988.09 432.57,987.57 432.88,986.78 433.2,986.29 433.54,985.79 433.9,985.22 434.35,984.72 434.83,983.82 435.32,983.26 435.82,983.09 436.33,982.58 436.85,981.99 437.37,981.54 437.88,981.26 438.38,981.04 438.87,980.74 439.35,980.47 439.8,980.48 440.44,980.42 441.03,980.31 441.6,980.34 442.16,980.27 442.71,979.91 443.28,980 443.87,980.77 444.5,981.39 444.85,981.81 445.2,982.15 445.55,982.19 445.91,982.67 446.26,983.3 446.63,983.9 446.99,984.68 447.37,985.19 447.75,985.47 448.15,986.12 448.55,986.92 448.97,987.45 449.4,988.06 449.84,988.33 450.3,988.2 450.77,988.64 451.26,989.46 451.77,990.12 452.28,990.64 452.81,991.08 453.35,991.28 453.9,991.27 454.45,991.57 455.02,992 455.59,992.3 456.16,992.46 456.74,992.52 457.33,992.93 457.91,993.02 458.5,993.08 459.05,993.77 459.59,994.16 460.14,994.04 460.68,993.97 461.23,994.43 461.78,994.9 462.34,994.34 462.91,993.82 463.48,994.28 464.07,994.84 464.66,995.2 465.28,995.36 465.9,995.36 466.55,995.73 467.21,996.09 467.9,996.32 468.43,996.7 468.99,996.56 469.58,996.49 470.21,997.06 470.85,997.2 471.51,997.15 472.19,997.24 472.88,997.08 473.57,997.43 474.25,998.1 474.94,998.03 475.61,997.98 476.27,998.55 476.91,998.94 477.53,998.65 478.12,998.39 478.67,998.78 479.19,999.36 479.67,999.83 480.1,999.99 480.48,999.63 480.8,999.6" fill="none" stroke="#1e10c8" stroke-width="1.9" stroke-linejoin="round"/>
<rect x="587.75" y="946.95" width="17.2" height="52.3" fill="none" stroke="#000" stroke-width="2.7"/>
<rect x="618.95" y="922.15" width="17.4" height="77.1" fill="none" stroke="#ff0000" stroke-width="2.7"/>
<rect x="650.35" y="960.55" width="17.4" height="38.7" fill="none" stroke="#1e10c8" stroke-width="2.7"/>
<circle cx="592.5" cy="910.4" r="2.3" fill="#000"/>
<circle cx="600.5" cy="908.2" r="2.3" fill="#000"/>
<circle cx="596.4" cy="916" r="2.3" fill="#000"/>
<circle cx="592.5" cy="924.8" r="2.3" fill="#000"/>
<circle cx="600.5" cy="922.1" r="2.3" fill="#000"/>
<circle cx="588.1" cy="936.8" r="2.3" fill="#000"/>
<circle cx="596.1" cy="936.5" r="2.3" fill="#000"/>
<circle cx="604.2" cy="936.8" r="2.3" fill="#000"/>
<circle cx="592.5" cy="940.4" r="2.3" fill="#000"/>
<circle cx="604.2" cy="941.9" r="2.3" fill="#000"/>
<circle cx="592.5" cy="953.6" r="2.3" fill="#000"/>
<circle cx="600.5" cy="955.8" r="2.3" fill="#000"/>
<circle cx="592.5" cy="965.4" r="2.3" fill="#000"/>
<circle cx="600.5" cy="965.8" r="2.3" fill="#000"/>
<circle cx="596.1" cy="982.2" r="2.3" fill="#000"/>
<circle cx="604.2" cy="980.5" r="2.3" fill="#000"/>
<circle cx="596.4" cy="990.7" r="2.3" fill="#000"/>
<rect x="625.75" y="854.45" width="3.9" height="3.9" fill="#ff0000"/>
<rect x="625.75" y="858.55" width="3.9" height="3.9" fill="#ff0000"/>
<rect x="625.75" y="862.65" width="3.9" height="3.9" fill="#ff0000"/>
<rect x="625.75" y="866.75" width="3.9" height="3.9" fill="#ff0000"/>
<rect x="625.75" y="879.85" width="3.9" height="3.9" fill="#ff0000"/>
<rect x="625.75" y="896.75" width="3.9" height="3.9" fill="#ff0000"/>
<rect x="625.75" y="901.05" width="3.9" height="3.9" fill="#ff0000"/>
<rect x="625.75" y="914.25" width="3.9" height="3.9" fill="#ff0000"/>
<rect x="622.05" y="917.25" width="3.9" height="3.9" fill="#ff0000"/>
<rect x="629.05" y="917.25" width="3.9" height="3.9" fill="#ff0000"/>
<rect x="622.05" y="926.05" width="3.9" height="3.9" fill="#ff0000"/>
<rect x="628.65" y="926.75" width="3.9" height="3.9" fill="#ff0000"/>
<rect x="633.75" y="924.55" width="3.9" height="3.9" fill="#ff0000"/>
<rect x="625.75" y="949.45" width="3.9" height="3.9" fill="#ff0000"/>
<rect x="625.75" y="953.85" width="3.9" height="3.9" fill="#ff0000"/>
<rect x="625.75" y="967.05" width="3.9" height="3.9" fill="#ff0000"/>
<rect x="619.85" y="971.75" width="3.9" height="3.9" fill="#ff0000"/>
<rect x="631.55" y="970.05" width="3.9" height="3.9" fill="#ff0000"/>
<path d="M659.2 904.62L661.9 909.75L656.5 909.75Z" fill="#1e10c8"/>
<path d="M661.8 923.42L664.5 928.55L659.1 928.55Z" fill="#1e10c8"/>
<path d="M656.2 925.62L658.9 930.75L653.5 930.75Z" fill="#1e10c8"/>
<path d="M650.7 932.92L653.4 938.05L648 938.05Z" fill="#1e10c8"/>
<path d="M661.8 934.92L664.5 940.05L659.1 940.05Z" fill="#1e10c8"/>
<path d="M656.2 937.32L658.9 942.45L653.5 942.45Z" fill="#1e10c8"/>
<path d="M659.2 949.12L661.9 954.25L656.5 954.25Z" fill="#1e10c8"/>
<path d="M659.2 962.72L661.9 967.85L656.5 967.85Z" fill="#1e10c8"/>
<path d="M650.7 965.92L653.4 971.05L648 971.05Z" fill="#1e10c8"/>
<path d="M656.2 968.12L658.9 973.25L653.5 973.25Z" fill="#1e10c8"/>
<path d="M661.8 968.12L664.5 973.25L659.1 973.25Z" fill="#1e10c8"/>
<path d="M656.2 972.52L658.9 977.65L653.5 977.65Z" fill="#1e10c8"/>
<path d="M668 982.12L670.7 987.25L665.3 987.25Z" fill="#1e10c8"/>
<path d="M650.7 985.02L653.4 990.15L648 990.15Z" fill="#1e10c8"/>
<path d="M656.2 981.32L658.9 986.45L653.5 986.45Z" fill="#1e10c8"/>
<path d="M661.8 984.32L664.5 989.45L659.1 989.45Z" fill="#1e10c8"/>
<line x1="596.35" y1="951.7" x2="596.35" y2="939.7" stroke="#000" stroke-width="1.6"/>
<line x1="590.35" y1="939.7" x2="602.35" y2="939.7" stroke="#000" stroke-width="1.6"/>
<line x1="590.35" y1="951.7" x2="602.35" y2="951.7" stroke="#000" stroke-width="1.6"/>
<line x1="627.65" y1="930" x2="627.65" y2="911.6" stroke="#ff0000" stroke-width="1.6"/>
<line x1="621.65" y1="911.6" x2="633.65" y2="911.6" stroke="#ff0000" stroke-width="1.6"/>
<line x1="621.65" y1="930" x2="633.65" y2="930" stroke="#ff0000" stroke-width="1.6"/>
<line x1="659.05" y1="965.4" x2="659.05" y2="952.6" stroke="#1e10c8" stroke-width="1.6"/>
<line x1="653.05" y1="952.6" x2="665.05" y2="952.6" stroke="#1e10c8" stroke-width="1.6"/>
<line x1="653.05" y1="965.4" x2="665.05" y2="965.4" stroke="#1e10c8" stroke-width="1.6"/>
<line x1="575.8" y1="842.3" x2="575.8" y2="1000.6" stroke="#000" stroke-width="2"/>
<line x1="569.6" y1="999.6" x2="575.8" y2="999.6" stroke="#000" stroke-width="1.9"/>
<text x="566.5" y="1003.35" font-size="10.8" text-anchor="end" fill="#000">0</text>
<line x1="569.6" y1="947.5" x2="575.8" y2="947.5" stroke="#000" stroke-width="1.9"/>
<text x="566.5" y="951.25" font-size="10.8" text-anchor="end" fill="#000">1</text>
<line x1="569.6" y1="895.4" x2="575.8" y2="895.4" stroke="#000" stroke-width="1.9"/>
<text x="566.5" y="899.15" font-size="10.8" text-anchor="end" fill="#000">2</text>
<line x1="569.6" y1="843.3" x2="575.8" y2="843.3" stroke="#000" stroke-width="1.9"/>
<text x="566.5" y="847.05" font-size="10.8" text-anchor="end" fill="#000">3</text>
<line x1="575.8" y1="999.6" x2="680.3" y2="999.6" stroke="#000" stroke-width="2"/>
<line x1="596.3" y1="999.6" x2="596.3" y2="1006.1" stroke="#000" stroke-width="1.9"/>
<line x1="627.7" y1="999.6" x2="627.7" y2="1006.1" stroke="#000" stroke-width="1.9"/>
<line x1="659.1" y1="999.6" x2="659.1" y2="1006.1" stroke="#000" stroke-width="1.9"/>
<text x="600.6" y="1021.3" font-size="13.8" font-weight="bold" text-anchor="end" fill="#000" transform="rotate(-45 600.6 1021.3)">CTR</text>
<text x="631.9" y="1022.2" font-size="13.8" font-weight="bold" text-anchor="end" fill="#000" transform="rotate(-45 631.9 1022.2)">Buty</text>
<text x="664.4" y="1024" font-size="13.8" font-weight="bold" text-anchor="end" fill="#000" transform="rotate(-45 664.4 1024)">Buty + AA</text>
<text x="553.2" y="922.2" font-size="15" font-weight="bold" text-anchor="middle" fill="#000" transform="rotate(-90 553.2 922.2)">Peak Amplitude (pA)</text>
<path d="M596.5 829V804.9H659.1V814.9" fill="none" stroke="#000" stroke-width="2.1" stroke-linejoin="miter"/>
<path d="M596.5 898.7V838.5H624.9V847.4" fill="none" stroke="#000" stroke-width="2.1" stroke-linejoin="miter"/>
<path d="M630.1 847.4V838.5H659.1V898.7" fill="none" stroke="#000" stroke-width="2.1" stroke-linejoin="miter"/>
<text x="627.7" y="797.1" font-size="14.5" text-anchor="middle" fill="#000">ns</text>
<line x1="610.5" y1="824" x2="610.5" y2="831.4" stroke="#000" stroke-width="1.6"/>
<line x1="607.3" y1="825.85" x2="613.7" y2="829.55" stroke="#000" stroke-width="1.6"/>
<line x1="607.3" y1="829.55" x2="613.7" y2="825.85" stroke="#000" stroke-width="1.6"/>
<line x1="640.4" y1="824" x2="640.4" y2="831.4" stroke="#000" stroke-width="1.6"/>
<line x1="637.2" y1="825.85" x2="643.6" y2="829.55" stroke="#000" stroke-width="1.6"/>
<line x1="637.2" y1="829.55" x2="643.6" y2="825.85" stroke="#000" stroke-width="1.6"/>
<line x1="649.7" y1="824" x2="649.7" y2="831.4" stroke="#000" stroke-width="1.6"/>
<line x1="646.5" y1="825.85" x2="652.9" y2="829.55" stroke="#000" stroke-width="1.6"/>
<line x1="646.5" y1="829.55" x2="652.9" y2="825.85" stroke="#000" stroke-width="1.6"/>
<text x="350.5" y="1095.8" font-size="24.5" text-anchor="start" fill="#000">J</text>
<text x="439.7" y="1058.1" font-size="12.1" text-anchor="middle" fill="#000" xml:space="preserve" stroke="#000" stroke-width="0.5">mCherry  RNAi</text>
<text x="451.8" y="1155.6" font-size="11.6" font-weight="bold" text-anchor="middle" fill="#000">HDAC1 RNAi</text>
<text x="454.6" y="1260.1" font-size="11.7" font-weight="bold" text-anchor="middle" fill="#000">HDAC1 RNAi + AA</text>
<path d="M481.8 1070.1V1090.6H507" fill="none" stroke="#000" stroke-width="1.4"/>
<text x="476.3" y="1080.2" font-size="10.6" font-weight="bold" text-anchor="middle" fill="#000" transform="rotate(-90 476.3 1080.2)">0.5 pA</text>
<text x="480.8" y="1102.1" font-size="10.6" font-weight="bold" text-anchor="start" fill="#000">10 Min</text>
<text x="373.9" y="1113.3" font-size="10.2" font-weight="bold" textLength="29.1" lengthAdjust="spacingAndGlyphs">AMPH</text>
<line x1="401.4" y1="1114.9" x2="401.4" y2="1118.72" stroke="#000" stroke-width="1.6"/>
<path d="M398.5 1118.22L404.3 1118.22L401.4 1123.2Z" fill="#000"/>
<line x1="393.6" y1="1130.7" x2="483.5" y2="1130.7" stroke="#222" stroke-width="1" stroke-dasharray="1.3 1"/>
<polyline points="393.6,1130.7 393.89,1130.62 394.26,1130.15 394.71,1129.48 395.21,1128.69 395.74,1128.39 396.29,1128.1 396.83,1127.73 397.34,1127.22 397.8,1126.46 398.35,1126.01 398.88,1125.7 399.39,1125.05 399.9,1124.14 400.4,1123.35 400.9,1123.4 401.4,1124 401.89,1123.99 402.34,1123.77 402.79,1124.23 403.24,1125.08 403.74,1125.87 404.28,1126.68 404.9,1127.13 405.38,1127.19 405.87,1127.28 406.39,1127.24 406.93,1127.41 407.5,1127.6 408.09,1127.78 408.7,1128.23 409.34,1128.78 410.01,1128.73 410.7,1128.2 411.26,1128.38 411.85,1128.88 412.47,1129.23 413.11,1129.67 413.77,1129.88 414.44,1129.83 415.11,1129.89 415.79,1130.17 416.46,1130.05 417.12,1129.71 417.77,1129.72 418.4,1129.66 419,1129.72 419.63,1130.03 420.25,1130.11 420.87,1129.88 421.47,1129.59 422.06,1129.39 422.65,1129.29 423.23,1129.38 423.8,1129.55 424.36,1129.55 424.91,1128.98 425.46,1128.06 426,1127.44 426.43,1127.2 426.84,1127.36 427.25,1127.44 427.65,1126.55 428.05,1125.31 428.44,1124.75 428.83,1124.66 429.22,1124.61 429.6,1124.27 429.98,1123.97 430.36,1123.53 430.74,1122.48 431.13,1121.93 431.51,1121.88 431.9,1121.05 432.18,1119.9 432.46,1118.98 432.74,1118.3 433.03,1117.91 433.31,1117.89 433.6,1117.77 433.88,1117.26 434.17,1116.4 434.45,1115.47 434.73,1115.11 435.02,1114.7 435.3,1113.71 435.58,1113.11 435.85,1112.81 436.13,1112.22 436.4,1111.58 436.67,1111.18 436.93,1110.74 437.19,1109.99 437.45,1109.35 437.7,1108.86 438.17,1108.04 438.62,1107.42 439.06,1106.9 439.49,1106.57 439.91,1106.38 440.33,1105.8 440.74,1105.03 441.15,1104.67 441.56,1104.5 441.98,1104.28 442.4,1104.04 442.92,1103.89 443.42,1103.8 443.92,1104.09 444.42,1104.91 444.93,1105.6 445.44,1105.95 445.97,1106.32 446.53,1106.71 447.1,1106.87 447.49,1107.12 447.89,1107.94 448.31,1108.48 448.73,1108.62 449.17,1109.18 449.61,1109.81 450.05,1110.27 450.49,1111.17 450.93,1112.1 451.37,1112.51 451.79,1112.5 452.21,1112.7 452.61,1113.23 453,1113.75 453.43,1114.19 453.84,1114.78 454.23,1115.5 454.61,1115.83 454.99,1116.34 455.36,1117.05 455.72,1117.42 456.1,1117.9 456.48,1118.48 456.87,1118.69 457.27,1118.88 457.7,1119.37 458.3,1120.11 458.91,1120.5 459.55,1120.49 460.2,1120.59 460.86,1120.55 461.52,1120.5 462.18,1120.68 462.85,1120.94 463.5,1121.31 464.09,1121.25 464.7,1120.84 465.32,1120.8 465.94,1120.71 466.56,1120.16 467.17,1119.71 467.77,1119.64 468.34,1119.56 468.89,1119.49 469.4,1119.66 469.83,1120.17 470.21,1120.82 470.56,1121.19 470.89,1121.56 471.2,1122.37 471.51,1122.98 471.83,1123.37 472.17,1123.96 472.54,1124.39 472.95,1125.07 473.4,1125.93 473.87,1126.4 474.37,1126.45 474.91,1126.37 475.48,1126.44 476.07,1126.84 476.66,1127.47 477.26,1127.68 477.85,1127.85 478.43,1128.2 478.99,1128.31 479.51,1128.47 480,1129.04 480.7,1129.95 481.4,1130.33 482.07,1130.03 482.71,1130.01 483.3,1130.6 483.82,1131.1 484.26,1131.4 484.6,1131.4" fill="none" stroke="#000" stroke-width="1.75" stroke-linejoin="round"/>
<text x="373.9" y="1204.6" font-size="10.2" font-weight="bold" textLength="29.1" lengthAdjust="spacingAndGlyphs">AMPH</text>
<line x1="402.1" y1="1206.5" x2="402.1" y2="1210.44" stroke="#000" stroke-width="1.6"/>
<path d="M399.2 1209.94L405 1209.94L402.1 1215.1Z" fill="#000"/>
<line x1="406.1" y1="1218.2" x2="512.8" y2="1218.2" stroke="#222" stroke-width="1" stroke-dasharray="1.3 1"/>
<polyline points="388.5,1218.7 388.86,1218.99 389.31,1219.02 389.84,1218.72 390.43,1218.42 391.07,1218.43 391.76,1218.44 392.48,1218.19 393.23,1218.07 393.99,1217.9 394.75,1217.86 395.5,1218.17 396.06,1218.25 396.65,1218.27 397.26,1218.16 397.9,1217.82 398.54,1217.92 399.2,1218.27 399.87,1218.2 400.53,1217.97 401.2,1218.1 401.86,1218.32 402.5,1218.48 403.14,1218.42 403.75,1218.35 404.34,1218.3 404.9,1217.73 405.51,1217.15 406.09,1216.84 406.63,1216.6 407.15,1216.28 407.66,1215.9 408.15,1215.94 408.65,1216.1 409.14,1215.82 409.65,1215.43 410.17,1215.07 410.71,1214.41 411.29,1213.6 411.9,1212.87 412.3,1212.62 412.7,1212.73 413.12,1212.85 413.54,1212.31 413.97,1211.58 414.41,1211.39 414.86,1211.08 415.31,1210.49 415.76,1209.99 416.22,1209.46 416.68,1208.74 417.15,1208.16 417.61,1208.16 418.08,1208.3 418.54,1207.83 419.01,1206.88 419.47,1206.14 419.94,1205.9 420.39,1205.74 420.85,1205.17 421.3,1204.54 421.73,1204.17 422.15,1203.81 422.58,1203.37 423.01,1202.64 423.44,1201.99 423.86,1201.9 424.29,1201.59 424.72,1200.87 425.15,1200.56 425.57,1200.33 426,1199.64 426.43,1199.31 426.85,1199.38 427.28,1199 427.71,1198.2 428.14,1197.63 428.56,1197.2 428.99,1196.41 429.42,1196.05 429.85,1196.23 430.27,1195.88 430.7,1195.04 431.22,1194.51 431.74,1194.08 432.27,1193.58 432.79,1193.57 433.31,1193.38 433.83,1192.87 434.36,1192.67 434.88,1192.46 435.4,1192.06 435.92,1191.86 436.44,1191.57 436.97,1190.96 437.49,1190.49 438.01,1190.32 438.53,1190.18 439.06,1189.87 439.58,1189.62 440.1,1189.41 440.7,1189.32 441.32,1189.3 441.95,1189.05 442.59,1188.97 443.24,1188.93 443.88,1188.66 444.53,1188.36 445.17,1188.32 445.8,1188.13 446.41,1187.77 447,1187.66 447.56,1187.57 448.1,1187.6 448.61,1187.56 449.07,1186.93 449.5,1186.24 450.22,1185.93 450.79,1185.92 451.24,1185.81 451.62,1185.69 451.95,1185.68 452.26,1185.39 452.6,1184.6 453,1183.57 453.22,1183.01 453.43,1182.81 453.65,1182.64 453.86,1181.73 454.07,1180.62 454.28,1180.38 454.49,1180.18 454.71,1179.1 454.92,1177.88 455.14,1177.34 455.35,1177.06 455.58,1176.34 455.8,1175.38 456.03,1174.88 456.26,1174.53 456.5,1174.07 456.89,1173.6 457.3,1172.94 457.71,1171.96 458.14,1171.05 458.57,1170.63 459,1170.29 459.43,1169.95 459.86,1169.83 460.28,1169.21 460.7,1168.91 461.1,1169.36 461.48,1169.81 461.85,1170.03 462.22,1170.12 462.59,1170.44 462.97,1170.93 463.37,1171.19 463.78,1171.79 464.22,1173.15 464.7,1174.31 464.9,1174.48 465.1,1174.81 465.31,1175.35 465.52,1175.87 465.74,1176.48 465.96,1176.94 466.18,1177.16 466.41,1177.7 466.64,1178.3 466.87,1179.15 467.11,1179.99 467.34,1180.3 467.58,1180.78 467.83,1181.61 468.07,1182.32 468.32,1182.56 468.56,1183.04 468.81,1184.03 469.07,1184.71 469.32,1185.39 469.57,1186.1 469.83,1186.42 470.09,1186.93 470.34,1187.72 470.6,1188.26 470.89,1188.84 471.19,1189.85 471.48,1190.6 471.77,1190.93 472.07,1191.23 472.36,1191.5 472.66,1192.23 472.96,1192.84 473.27,1193.22 473.57,1193.66 473.88,1193.97 474.19,1194.41 474.51,1195.3 474.83,1196.35 475.16,1196.85 475.49,1196.93 475.82,1197.17 476.17,1197.54 476.51,1198.27 476.87,1199.33 477.23,1199.84 477.6,1199.95 477.98,1200.13 478.36,1200.7 478.76,1201.64 479.16,1202.06 479.57,1202.26 479.99,1202.74 480.41,1203.13 480.84,1203.57 481.27,1203.9 481.71,1204.4 482.15,1205.14 482.59,1205.75 483.04,1206.09 483.48,1206.41 483.93,1207.18 484.37,1207.66 484.82,1207.73 485.26,1207.9 485.7,1208.09 486.14,1208.3 486.57,1208.61 487,1209.18 487.55,1209.95 488.11,1210.61 488.66,1211.01 489.21,1211.13 489.76,1211.16 490.32,1211.35 490.87,1211.72 491.42,1211.86 491.98,1212.01 492.53,1212.4 493.08,1212.55 493.64,1212.84 494.19,1213.3 494.74,1213.76 495.29,1214.27 495.85,1214.55 496.4,1214.95 496.99,1215.1 497.58,1214.97 498.18,1215.34 498.78,1215.71 499.38,1215.67 499.98,1215.7 500.58,1215.87 501.17,1216.09 501.77,1216.31 502.36,1216.67 502.95,1217.19 503.53,1217.41 504.11,1217.31 504.68,1217.4 505.25,1217.57 505.8,1217.4 506.49,1217.49 507.21,1217.83 507.94,1217.95 508.68,1218.04 509.41,1218.26 510.14,1218.46 510.83,1218.41 511.5,1218.69 512.12,1218.86 512.69,1218.68 513.2,1218.75 513.64,1218.4 514,1218.7" fill="none" stroke="#ff0000" stroke-width="1.75" stroke-linejoin="round"/>
<text x="370.9" y="1285" font-size="10.2" font-weight="bold" textLength="30.5" lengthAdjust="spacingAndGlyphs">AMPH</text>
<line x1="400.2" y1="1286.6" x2="400.2" y2="1290.18" stroke="#000" stroke-width="1.6"/>
<path d="M397.3 1289.68L403.1 1289.68L400.2 1294.3Z" fill="#000"/>
<line x1="408.4" y1="1296.2" x2="492.9" y2="1296.2" stroke="#222" stroke-width="1" stroke-dasharray="1.3 1"/>
<polyline points="390.8,1296.2 391.16,1296.42 391.61,1295.83 392.13,1295.38 392.72,1295.61 393.37,1295.79 394.05,1295.67 394.77,1295.41 395.5,1295.12 396.24,1295.48 396.98,1296.16 397.7,1296.11 398.39,1295.5 399.05,1295.29 399.66,1295.62 400.2,1295.92 400.95,1295.78 401.66,1295.61 402.34,1295.95 402.98,1296.56 403.59,1297.15 404.17,1297.44 404.7,1297.56 405.21,1297.63 405.67,1297.66 406.1,1297.69 406.68,1297.37 407.09,1297.09 407.4,1296.65 407.68,1295.69 407.99,1294.64 408.4,1293.77 408.61,1293.68 408.84,1293.36 409.07,1292.85 409.31,1292.14 409.56,1291.26 409.82,1290.87 410.07,1290.5 410.34,1289.93 410.6,1289.64 410.87,1289.09 411.13,1287.94 411.39,1286.94 411.65,1286.43 411.9,1286.12 412.15,1285.56 412.39,1284.87 412.63,1284.28 412.87,1283.61 413.1,1283.14 413.34,1282.64 413.57,1282.19 413.82,1281.71 414.06,1280.71 414.31,1279.92 414.57,1279.59 414.84,1278.96 415.11,1278.16 415.4,1277.7 415.82,1277.23 416.24,1276.98 416.68,1276.66 417.14,1275.9 417.6,1275.28 418.08,1274.54 418.56,1273.91 419.06,1274.16 419.58,1274.32 420.1,1273.96 420.64,1273.65 421.19,1273.58 421.75,1273.94 422.32,1274.34 422.91,1274.56 423.5,1274.49 424.11,1274.2 424.73,1274.61 425.36,1275.32 426,1275.42 426.5,1275.3 426.99,1275.83 427.49,1276.38 427.99,1276.26 428.5,1276.27 429.02,1276.64 429.55,1277.22 430.08,1277.91 430.63,1278.04 431.2,1278.14 431.78,1278.8 432.38,1279.08 433,1279.49 433.47,1280.14 433.96,1280.14 434.48,1280.02 435.02,1280.36 435.57,1280.74 436.13,1281.11 436.7,1281.78 437.27,1282.49 437.84,1282.67 438.41,1283.07 438.97,1283.81 439.53,1283.88 440.06,1284.02 440.58,1284.57 441.08,1284.93 441.55,1285.15 441.99,1285.7 442.4,1286.22 443.2,1286.26 443.88,1286.32 444.45,1286.77 444.97,1287.04 445.46,1287.35 445.95,1287.78 446.49,1287.97 447.1,1288.08 447.64,1288.17 448.2,1287.84 448.78,1287.58 449.38,1287.68 449.98,1287.65 450.59,1287.46 451.2,1287.16 451.81,1287.05 452.41,1286.65 453,1285.95 453.63,1285.93 454.23,1286.56 454.81,1286.92 455.39,1286.86 455.98,1287.32 456.6,1287.82 457.27,1287.9 458,1287.94 458.8,1287.96 459.29,1288.11 459.8,1288.43 460.34,1288.73 460.9,1288.91 461.47,1288.86 462.06,1288.85 462.66,1289.17 463.28,1289.4 463.89,1289.27 464.52,1289.45 465.14,1289.93 465.77,1290.26 466.39,1290.23 467,1290.15 467.61,1290.65 468.2,1291.29 468.79,1291.38 469.38,1291.19 469.96,1291.53 470.55,1292.11 471.14,1292.47 471.72,1292.79 472.31,1292.72 472.9,1292.52 473.49,1292.7 474.07,1292.74 474.66,1292.93 475.25,1293.32 475.84,1293.16 476.42,1293.01 477.01,1293.16 477.6,1293.46 478.23,1293.92 478.86,1294.24 479.5,1294.41 480.14,1294.25 480.78,1294.17 481.42,1294.34 482.06,1294.23 482.69,1294.19 483.33,1294.4 483.96,1294.73 484.58,1294.9 485.2,1294.79 485.81,1294.84 486.41,1294.79 487,1294.53 487.69,1294.63 488.41,1295.06 489.14,1295.43 489.88,1295.62 490.61,1295.7 491.34,1295.65 492.03,1295.68 492.7,1295.76 493.32,1295.55 493.89,1295.49 494.4,1295.64 494.84,1295.67 495.2,1296.2" fill="none" stroke="#1e10c8" stroke-width="1.9" stroke-linejoin="round"/>
<rect x="569.85" y="1259.35" width="16.8" height="34.3" fill="none" stroke="#000" stroke-width="2.7"/>
<rect x="599.05" y="1232.95" width="16.8" height="60.7" fill="none" stroke="#ff0000" stroke-width="2.7"/>
<rect x="628.55" y="1261.35" width="16.9" height="32.3" fill="none" stroke="#1e10c8" stroke-width="2.7"/>
<circle cx="578.3" cy="1220.4" r="2.3" fill="#000"/>
<circle cx="570.6" cy="1236.8" r="2.3" fill="#000"/>
<circle cx="586.1" cy="1239" r="2.3" fill="#000"/>
<circle cx="578.3" cy="1243.1" r="2.3" fill="#000"/>
<circle cx="570.6" cy="1247.3" r="2.3" fill="#000"/>
<circle cx="586.1" cy="1247.3" r="2.3" fill="#000"/>
<circle cx="578.3" cy="1251.4" r="2.3" fill="#000"/>
<circle cx="578.3" cy="1265.4" r="2.3" fill="#000"/>
<circle cx="578.3" cy="1270.5" r="2.3" fill="#000"/>
<circle cx="571" cy="1269.8" r="2.3" fill="#000"/>
<circle cx="586.1" cy="1270.5" r="2.3" fill="#000"/>
<circle cx="578.3" cy="1278.6" r="2.3" fill="#000"/>
<circle cx="571" cy="1281.5" r="2.3" fill="#000"/>
<circle cx="586.1" cy="1281.5" r="2.3" fill="#000"/>
<rect x="605.5" y="1157.6" width="4.4" height="4.4" fill="#ff0000"/>
<rect x="605.5" y="1204.5" width="4.4" height="4.4" fill="#ff0000"/>
<rect x="601.3" y="1220.6" width="4.4" height="4.4" fill="#ff0000"/>
<rect x="609.4" y="1220.2" width="4.4" height="4.4" fill="#ff0000"/>
<rect x="605.5" y="1229.4" width="4.4" height="4.4" fill="#ff0000"/>
<rect x="605.5" y="1234.6" width="4.4" height="4.4" fill="#ff0000"/>
<rect x="613.5" y="1232.4" width="4.4" height="4.4" fill="#ff0000"/>
<rect x="601.3" y="1244.8" width="4.4" height="4.4" fill="#ff0000"/>
<rect x="609.4" y="1241.9" width="4.4" height="4.4" fill="#ff0000"/>
<rect x="605.5" y="1253.6" width="4.4" height="4.4" fill="#ff0000"/>
<rect x="597.4" y="1255.1" width="4.4" height="4.4" fill="#ff0000"/>
<rect x="613.5" y="1257.3" width="4.4" height="4.4" fill="#ff0000"/>
<rect x="605.5" y="1259.5" width="4.4" height="4.4" fill="#ff0000"/>
<rect x="605.5" y="1267.6" width="4.4" height="4.4" fill="#ff0000"/>
<path d="M637 1203.22L639.7 1208.35L634.3 1208.35Z" fill="#1e10c8"/>
<path d="M637 1219.72L639.7 1224.85L634.3 1224.85Z" fill="#1e10c8"/>
<path d="M637 1233.72L639.7 1238.85L634.3 1238.85Z" fill="#1e10c8"/>
<path d="M637 1238.12L639.7 1243.25L634.3 1243.25Z" fill="#1e10c8"/>
<path d="M637 1249.82L639.7 1254.95L634.3 1254.95Z" fill="#1e10c8"/>
<path d="M639.2 1254.92L641.9 1260.05L636.5 1260.05Z" fill="#1e10c8"/>
<path d="M637 1263.02L639.7 1268.15L634.3 1268.15Z" fill="#1e10c8"/>
<path d="M637 1267.42L639.7 1272.55L634.3 1272.55Z" fill="#1e10c8"/>
<path d="M634.8 1274.02L637.5 1279.15L632.1 1279.15Z" fill="#1e10c8"/>
<path d="M639.9 1276.22L642.6 1281.35L637.2 1281.35Z" fill="#1e10c8"/>
<path d="M634 1282.82L636.7 1287.95L631.3 1287.95Z" fill="#1e10c8"/>
<path d="M639.9 1282.12L642.6 1287.25L637.2 1287.25Z" fill="#1e10c8"/>
<line x1="578.25" y1="1264.6" x2="578.25" y2="1251.4" stroke="#000" stroke-width="1.6"/>
<line x1="572.75" y1="1251.4" x2="583.75" y2="1251.4" stroke="#000" stroke-width="1.6"/>
<line x1="572.75" y1="1264.6" x2="583.75" y2="1264.6" stroke="#000" stroke-width="1.6"/>
<line x1="607.45" y1="1238" x2="607.45" y2="1225" stroke="#ff0000" stroke-width="1.6"/>
<line x1="601.95" y1="1225" x2="612.95" y2="1225" stroke="#ff0000" stroke-width="1.6"/>
<line x1="601.95" y1="1238" x2="612.95" y2="1238" stroke="#ff0000" stroke-width="1.6"/>
<line x1="637" y1="1267" x2="637" y2="1252.9" stroke="#1e10c8" stroke-width="1.6"/>
<line x1="631.5" y1="1252.9" x2="642.5" y2="1252.9" stroke="#1e10c8" stroke-width="1.6"/>
<line x1="631.5" y1="1267" x2="642.5" y2="1267" stroke="#1e10c8" stroke-width="1.6"/>
<line x1="558.8" y1="1146" x2="558.8" y2="1295" stroke="#000" stroke-width="2"/>
<line x1="552.6" y1="1294" x2="558.8" y2="1294" stroke="#000" stroke-width="1.9"/>
<text x="550.6" y="1297.75" font-size="10.6" text-anchor="end" fill="#000" stroke="#000" stroke-width="0.4">0</text>
<line x1="552.6" y1="1245" x2="558.8" y2="1245" stroke="#000" stroke-width="1.9"/>
<text x="550.6" y="1248.75" font-size="10.6" text-anchor="end" fill="#000" stroke="#000" stroke-width="0.4">1</text>
<line x1="552.6" y1="1196" x2="558.8" y2="1196" stroke="#000" stroke-width="1.9"/>
<text x="550.6" y="1199.75" font-size="10.6" text-anchor="end" fill="#000" stroke="#000" stroke-width="0.4">2</text>
<line x1="552.6" y1="1147" x2="558.8" y2="1147" stroke="#000" stroke-width="1.9"/>
<text x="550.6" y="1150.75" font-size="10.6" text-anchor="end" fill="#000" stroke="#000" stroke-width="0.4">3</text>
<line x1="558.8" y1="1294" x2="656.5" y2="1294" stroke="#000" stroke-width="2"/>
<line x1="578.1" y1="1294" x2="578.1" y2="1300.5" stroke="#000" stroke-width="1.9"/>
<line x1="607.3" y1="1294" x2="607.3" y2="1300.5" stroke="#000" stroke-width="1.9"/>
<line x1="636.9" y1="1294" x2="636.9" y2="1300.5" stroke="#000" stroke-width="1.9"/>
<text x="584" y="1316.4" font-size="13.6" text-anchor="end" fill="#000" transform="rotate(-45 584 1316.4)" stroke="#000" stroke-width="0.4">mCherry RNAi</text>
<text x="612.1" y="1315.3" font-size="13.6" text-anchor="end" fill="#000" transform="rotate(-45 612.1 1315.3)" stroke="#000" stroke-width="0.4">HDAC1 RNAi</text>
<text x="642.3" y="1316.4" font-size="13.6" text-anchor="end" fill="#000" transform="rotate(-45 642.3 1316.4)" stroke="#000" stroke-width="0.4">HDAC1 RNAi + AA</text>
<text x="537" y="1220.2" font-size="15.2" text-anchor="middle" fill="#000" transform="rotate(-90 537 1220.2)" stroke="#000" stroke-width="0.45">Peak Amplitude (pA)</text>
<path d="M578.2 1133.7V1111.3H637V1133.7" fill="none" stroke="#000" stroke-width="2.1" stroke-linejoin="miter"/>
<path d="M578.2 1211.8V1142H604.7V1151" fill="none" stroke="#000" stroke-width="2.1" stroke-linejoin="miter"/>
<path d="M610.6 1151V1142H637V1196.9" fill="none" stroke="#000" stroke-width="2.1" stroke-linejoin="miter"/>
<text x="607.5" y="1104.8" font-size="14.5" text-anchor="middle" fill="#000">ns</text>
<line x1="591.2" y1="1129.4" x2="591.2" y2="1136" stroke="#000" stroke-width="1.5"/>
<line x1="588.34" y1="1131.05" x2="594.06" y2="1134.35" stroke="#000" stroke-width="1.5"/>
<line x1="588.34" y1="1134.35" x2="594.06" y2="1131.05" stroke="#000" stroke-width="1.5"/>
<line x1="623.7" y1="1129.4" x2="623.7" y2="1136" stroke="#000" stroke-width="1.5"/>
<line x1="620.84" y1="1131.05" x2="626.56" y2="1134.35" stroke="#000" stroke-width="1.5"/>
<line x1="620.84" y1="1134.35" x2="626.56" y2="1131.05" stroke="#000" stroke-width="1.5"/>
</svg>
</body></html>
